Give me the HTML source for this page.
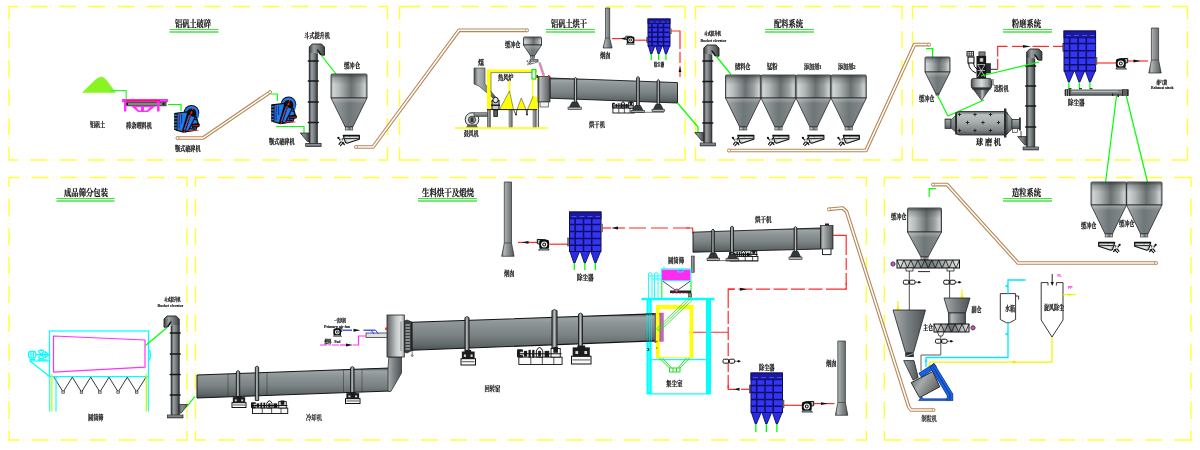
<!DOCTYPE html>
<html lang="zh-CN">
<head>
<meta charset="utf-8">
<title>铝矾土工艺流程图</title>
<style>
html,body{margin:0;padding:0;background:#fff;}
body{width:1200px;height:450px;overflow:hidden;font-family:"Liberation Serif","Noto Serif CJK SC",serif;}
svg{will-change:transform;transform:translateZ(0);}
svg text{white-space:pre;stroke:#111;stroke-width:0.22px;paint-order:stroke;}
</style>
</head>
<body>
<svg width="1200" height="450" viewBox="0 0 1200 450" style="display:block">
<defs>
<linearGradient id="gH" x1="0" x2="1" y1="0" y2="0"><stop offset="0" stop-color="#4b4f50"/><stop offset="0.18" stop-color="#b4b9b9"/><stop offset="0.5" stop-color="#8b9091"/><stop offset="0.85" stop-color="#666a6b"/><stop offset="1" stop-color="#44484a"/></linearGradient>
<linearGradient id="gC" x1="0" x2="1" y1="0" y2="0"><stop offset="0" stop-color="#5a5e5f"/><stop offset="0.3" stop-color="#8a8f90"/><stop offset="0.6" stop-color="#75797a"/><stop offset="1" stop-color="#3f4344"/></linearGradient>
<linearGradient id="gV" x1="0" x2="0" y1="0" y2="1"><stop offset="0" stop-color="#404647"/><stop offset="0.1" stop-color="#9ca4a5"/><stop offset="0.28" stop-color="#8c9496"/><stop offset="0.58" stop-color="#7b8385"/><stop offset="0.86" stop-color="#5f6769"/><stop offset="1" stop-color="#484e50"/></linearGradient>
<linearGradient id="gT" x1="0" x2="1" y1="0" y2="0"><stop offset="0" stop-color="#3a3c3d"/><stop offset="0.45" stop-color="#c4c8c8"/><stop offset="1" stop-color="#3a3c3d"/></linearGradient>
<linearGradient id="gHood" x1="0" x2="1" y1="0" y2="0"><stop offset="0" stop-color="#5e6263"/><stop offset="0.25" stop-color="#8e9293"/><stop offset="0.55" stop-color="#c6caca"/><stop offset="0.8" stop-color="#e0e3e3"/><stop offset="1" stop-color="#a2a6a7"/></linearGradient>
<linearGradient id="gE" x1="0" x2="1" y1="0" y2="0"><stop offset="0" stop-color="#3c4243"/><stop offset="0.3" stop-color="#9aa0a1"/><stop offset="0.65" stop-color="#717778"/><stop offset="1" stop-color="#3a3f40"/></linearGradient>
<linearGradient id="gHop" x1="0" x2="1" y1="0" y2="0"><stop offset="0" stop-color="#9aa0a0"/><stop offset="0.06" stop-color="#d0d4d4"/><stop offset="0.24" stop-color="#b2b7b7"/><stop offset="0.56" stop-color="#6b7172"/><stop offset="0.8" stop-color="#9ca2a2"/><stop offset="0.94" stop-color="#ccd0d0"/><stop offset="1" stop-color="#8a9091"/></linearGradient>
<linearGradient id="gCone" x1="0" x2="1" y1="0" y2="0"><stop offset="0" stop-color="#a4aaab"/><stop offset="0.5" stop-color="#6f7677"/><stop offset="1" stop-color="#8a9091"/></linearGradient>
<linearGradient id="gTopShade" x1="0" x2="0" y1="0" y2="1"><stop offset="0" stop-color="#2e3334" stop-opacity="0.75"/><stop offset="0.35" stop-color="#3a4041" stop-opacity="0.3"/><stop offset="1" stop-color="#3a4041" stop-opacity="0"/></linearGradient>
<linearGradient id="gConeTop" x1="0" x2="0" y1="0" y2="1"><stop offset="0" stop-color="#ffffff" stop-opacity="0.28"/><stop offset="1" stop-color="#ffffff" stop-opacity="0"/></linearGradient>
<linearGradient id="gM" x1="0" x2="0" y1="0" y2="1"><stop offset="0" stop-color="#5a6061"/><stop offset="0.14" stop-color="#bcc1c1"/><stop offset="0.45" stop-color="#a9aeae"/><stop offset="0.8" stop-color="#7f8586"/><stop offset="1" stop-color="#4c5253"/></linearGradient>
<linearGradient id="gC2" x1="0" x2="1" y1="0" y2="0"><stop offset="0" stop-color="#a9afaf"/><stop offset="0.45" stop-color="#7b8182"/><stop offset="1" stop-color="#4e5455"/></linearGradient>
<linearGradient id="gScrew" x1="0" x2="1" y1="0" y2="0"><stop offset="0" stop-color="#e6e9e9"/><stop offset="0.5" stop-color="#6c7273"/><stop offset="1" stop-color="#e6e9e9"/></linearGradient>
<linearGradient id="gDrum" x1="0" x2="1" y1="0" y2="0"><stop offset="0" stop-color="#4a4e4f"/><stop offset="0.22" stop-color="#9ea2a3"/><stop offset="0.5" stop-color="#d8dcdc"/><stop offset="0.8" stop-color="#9a9e9f"/><stop offset="1" stop-color="#4a4e4f"/></linearGradient>
<linearGradient id="gDrum2" x1="0" x2="1" y1="0" y2="0"><stop offset="0" stop-color="#3c4041"/><stop offset="0.45" stop-color="#6c7071"/><stop offset="0.55" stop-color="#c4c8c8"/><stop offset="0.7" stop-color="#6c7071"/><stop offset="1" stop-color="#3c4041"/></linearGradient>
<filter id="soft" filterUnits="userSpaceOnUse" x="0" y="0" width="1200" height="450" color-interpolation-filters="sRGB"><feGaussianBlur stdDeviation="0.4"/></filter>
<linearGradient id="gDrumV" x1="0" x2="1" y1="0" y2="0.6"><stop offset="0" stop-color="#565a5b"/><stop offset="0.45" stop-color="#a6aaab"/><stop offset="1" stop-color="#5a5e5f"/></linearGradient>
</defs>
<rect width="1200" height="450" fill="#fff"/>
<g filter="url(#soft)">
<path d="M8.35 6.5H18.25M30.25 6.5H47.25M59.25 6.5H76.25M88.25 6.5H105.25M117.25 6.5H134.25M146.25 6.5H163.25M175.25 6.5H192.25M204.25 6.5H221.25M233.25 6.5H250.25M262.25 6.5H279.25M291.25 6.5H308.25M320.25 6.5H337.25M349.25 6.5H366.25M378.25 6.5H388.15M8.35 160H18.25M30.25 160H47.25M59.25 160H76.25M88.25 160H105.25M117.25 160H134.25M146.25 160H163.25M175.25 160H192.25M204.25 160H221.25M233.25 160H250.25M262.25 160H279.25M291.25 160H308.25M320.25 160H337.25M349.25 160H366.25M378.25 160H388.15M9 5.85V19.25M9 31.25V48.25M9 60.25V77.25M9 89.25V106.25M9 118.25V135.25M9 147.25V160.65M387.5 5.85V19.25M387.5 31.25V48.25M387.5 60.25V77.25M387.5 89.25V106.25M387.5 118.25V135.25M387.5 147.25V160.65" fill="none" stroke="#ffff3a" stroke-width="1.45"/>
<path d="M21.65 6.5h1M25.65 6.5h1M50.65 6.5h1M54.65 6.5h1M79.65 6.5h1M83.65 6.5h1M108.65 6.5h1M112.65 6.5h1M137.65 6.5h1M141.65 6.5h1M166.65 6.5h1M170.65 6.5h1M195.65 6.5h1M199.65 6.5h1M224.65 6.5h1M228.65 6.5h1M253.65 6.5h1M257.65 6.5h1M282.65 6.5h1M286.65 6.5h1M311.65 6.5h1M315.65 6.5h1M340.65 6.5h1M344.65 6.5h1M369.65 6.5h1M373.65 6.5h1M21.65 160h1M25.65 160h1M50.65 160h1M54.65 160h1M79.65 160h1M83.65 160h1M108.65 160h1M112.65 160h1M137.65 160h1M141.65 160h1M166.65 160h1M170.65 160h1M195.65 160h1M199.65 160h1M224.65 160h1M228.65 160h1M253.65 160h1M257.65 160h1M282.65 160h1M286.65 160h1M311.65 160h1M315.65 160h1M340.65 160h1M344.65 160h1M369.65 160h1M373.65 160h1M9 22.65v1M9 26.65v1M9 51.65v1M9 55.65v1M9 80.65v1M9 84.65v1M9 109.65v1M9 113.65v1M9 138.65v1M9 142.65v1M387.5 22.65v1M387.5 26.65v1M387.5 51.65v1M387.5 55.65v1M387.5 80.65v1M387.5 84.65v1M387.5 109.65v1M387.5 113.65v1M387.5 138.65v1M387.5 142.65v1" fill="none" stroke="#ffff3a" stroke-width="1.4" opacity="0.6"/>
<path d="M398.85 6.5H420.25M432.25 6.5H449.25M461.25 6.5H478.25M490.25 6.5H507.25M519.25 6.5H536.25M548.25 6.5H565.25M577.25 6.5H594.25M606.25 6.5H623.25M635.25 6.5H652.25M664.25 6.5H685.65M398.85 160H420.25M432.25 160H449.25M461.25 160H478.25M490.25 160H507.25M519.25 160H536.25M548.25 160H565.25M577.25 160H594.25M606.25 160H623.25M635.25 160H652.25M664.25 160H685.65M399.5 5.85V19.25M399.5 31.25V48.25M399.5 60.25V77.25M399.5 89.25V106.25M399.5 118.25V135.25M399.5 147.25V160.65M685 5.85V19.25M685 31.25V48.25M685 60.25V77.25M685 89.25V106.25M685 118.25V135.25M685 147.25V160.65" fill="none" stroke="#ffff3a" stroke-width="1.45"/>
<path d="M423.65 6.5h1M427.65 6.5h1M452.65 6.5h1M456.65 6.5h1M481.65 6.5h1M485.65 6.5h1M510.65 6.5h1M514.65 6.5h1M539.65 6.5h1M543.65 6.5h1M568.65 6.5h1M572.65 6.5h1M597.65 6.5h1M601.65 6.5h1M626.65 6.5h1M630.65 6.5h1M655.65 6.5h1M659.65 6.5h1M423.65 160h1M427.65 160h1M452.65 160h1M456.65 160h1M481.65 160h1M485.65 160h1M510.65 160h1M514.65 160h1M539.65 160h1M543.65 160h1M568.65 160h1M572.65 160h1M597.65 160h1M601.65 160h1M626.65 160h1M630.65 160h1M655.65 160h1M659.65 160h1M399.5 22.65v1M399.5 26.65v1M399.5 51.65v1M399.5 55.65v1M399.5 80.65v1M399.5 84.65v1M399.5 109.65v1M399.5 113.65v1M399.5 138.65v1M399.5 142.65v1M685 22.65v1M685 26.65v1M685 51.65v1M685 55.65v1M685 80.65v1M685 84.65v1M685 109.65v1M685 113.65v1M685 138.65v1M685 142.65v1" fill="none" stroke="#ffff3a" stroke-width="1.4" opacity="0.6"/>
<path d="M694.85 6.5H705.75M717.75 6.5H734.75M746.75 6.5H763.75M775.75 6.5H792.75M804.75 6.5H821.75M833.75 6.5H850.75M862.75 6.5H879.75M891.75 6.5H902.65M694.85 160H705.75M717.75 160H734.75M746.75 160H763.75M775.75 160H792.75M804.75 160H821.75M833.75 160H850.75M862.75 160H879.75M891.75 160H902.65M695.5 5.85V19.25M695.5 31.25V48.25M695.5 60.25V77.25M695.5 89.25V106.25M695.5 118.25V135.25M695.5 147.25V160.65M902 5.85V19.25M902 31.25V48.25M902 60.25V77.25M902 89.25V106.25M902 118.25V135.25M902 147.25V160.65" fill="none" stroke="#ffff3a" stroke-width="1.45"/>
<path d="M709.15 6.5h1M713.15 6.5h1M738.15 6.5h1M742.15 6.5h1M767.15 6.5h1M771.15 6.5h1M796.15 6.5h1M800.15 6.5h1M825.15 6.5h1M829.15 6.5h1M854.15 6.5h1M858.15 6.5h1M883.15 6.5h1M887.15 6.5h1M709.15 160h1M713.15 160h1M738.15 160h1M742.15 160h1M767.15 160h1M771.15 160h1M796.15 160h1M800.15 160h1M825.15 160h1M829.15 160h1M854.15 160h1M858.15 160h1M883.15 160h1M887.15 160h1M695.5 22.65v1M695.5 26.65v1M695.5 51.65v1M695.5 55.65v1M695.5 80.65v1M695.5 84.65v1M695.5 109.65v1M695.5 113.65v1M695.5 138.65v1M695.5 142.65v1M902 22.65v1M902 26.65v1M902 51.65v1M902 55.65v1M902 80.65v1M902 84.65v1M902 109.65v1M902 113.65v1M902 138.65v1M902 142.65v1" fill="none" stroke="#ffff3a" stroke-width="1.4" opacity="0.6"/>
<path d="M911.85 6.5H928M940 6.5H957M969 6.5H986M998 6.5H1015M1027 6.5H1044M1056 6.5H1073M1085 6.5H1102M1114 6.5H1131M1143 6.5H1160M1172 6.5H1188.15M911.85 160H928M940 160H957M969 160H986M998 160H1015M1027 160H1044M1056 160H1073M1085 160H1102M1114 160H1131M1143 160H1160M1172 160H1188.15M912.5 5.85V19.25M912.5 31.25V48.25M912.5 60.25V77.25M912.5 89.25V106.25M912.5 118.25V135.25M912.5 147.25V160.65M1187.5 5.85V19.25M1187.5 31.25V48.25M1187.5 60.25V77.25M1187.5 89.25V106.25M1187.5 118.25V135.25M1187.5 147.25V160.65" fill="none" stroke="#ffff3a" stroke-width="1.45"/>
<path d="M931.4 6.5h1M935.4 6.5h1M960.4 6.5h1M964.4 6.5h1M989.4 6.5h1M993.4 6.5h1M1018.4 6.5h1M1022.4 6.5h1M1047.4 6.5h1M1051.4 6.5h1M1076.4 6.5h1M1080.4 6.5h1M1105.4 6.5h1M1109.4 6.5h1M1134.4 6.5h1M1138.4 6.5h1M1163.4 6.5h1M1167.4 6.5h1M931.4 160h1M935.4 160h1M960.4 160h1M964.4 160h1M989.4 160h1M993.4 160h1M1018.4 160h1M1022.4 160h1M1047.4 160h1M1051.4 160h1M1076.4 160h1M1080.4 160h1M1105.4 160h1M1109.4 160h1M1134.4 160h1M1138.4 160h1M1163.4 160h1M1167.4 160h1M912.5 22.65v1M912.5 26.65v1M912.5 51.65v1M912.5 55.65v1M912.5 80.65v1M912.5 84.65v1M912.5 109.65v1M912.5 113.65v1M912.5 138.65v1M912.5 142.65v1M1187.5 22.65v1M1187.5 26.65v1M1187.5 51.65v1M1187.5 55.65v1M1187.5 80.65v1M1187.5 84.65v1M1187.5 109.65v1M1187.5 113.65v1M1187.5 138.65v1M1187.5 142.65v1" fill="none" stroke="#ffff3a" stroke-width="1.4" opacity="0.6"/>
<path d="M8.35 177.5H19.5M31.5 177.5H48.5M60.5 177.5H77.5M89.5 177.5H106.5M118.5 177.5H135.5M147.5 177.5H164.5M176.5 177.5H187.65M8.35 440H19.5M31.5 440H48.5M60.5 440H77.5M89.5 440H106.5M118.5 440H135.5M147.5 440H164.5M176.5 440H187.65M9 176.85V186.75M9 198.75V215.75M9 227.75V244.75M9 256.75V273.75M9 285.75V302.75M9 314.75V331.75M9 343.75V360.75M9 372.75V389.75M9 401.75V418.75M9 430.75V440.65M187 176.85V186.75M187 198.75V215.75M187 227.75V244.75M187 256.75V273.75M187 285.75V302.75M187 314.75V331.75M187 343.75V360.75M187 372.75V389.75M187 401.75V418.75M187 430.75V440.65" fill="none" stroke="#ffff3a" stroke-width="1.45"/>
<path d="M22.9 177.5h1M26.9 177.5h1M51.9 177.5h1M55.9 177.5h1M80.9 177.5h1M84.9 177.5h1M109.9 177.5h1M113.9 177.5h1M138.9 177.5h1M142.9 177.5h1M167.9 177.5h1M171.9 177.5h1M22.9 440h1M26.9 440h1M51.9 440h1M55.9 440h1M80.9 440h1M84.9 440h1M109.9 440h1M113.9 440h1M138.9 440h1M142.9 440h1M167.9 440h1M171.9 440h1M9 190.15v1M9 194.15v1M9 219.15v1M9 223.15v1M9 248.15v1M9 252.15v1M9 277.15v1M9 281.15v1M9 306.15v1M9 310.15v1M9 335.15v1M9 339.15v1M9 364.15v1M9 368.15v1M9 393.15v1M9 397.15v1M9 422.15v1M9 426.15v1M187 190.15v1M187 194.15v1M187 219.15v1M187 223.15v1M187 248.15v1M187 252.15v1M187 277.15v1M187 281.15v1M187 306.15v1M187 310.15v1M187 335.15v1M187 339.15v1M187 364.15v1M187 368.15v1M187 393.15v1M187 397.15v1M187 422.15v1M187 426.15v1" fill="none" stroke="#ffff3a" stroke-width="1.4" opacity="0.6"/>
<path d="M194.85 177.5H205.9M217.9 177.5H234.9M246.9 177.5H263.9M275.9 177.5H292.9M304.9 177.5H321.9M333.9 177.5H350.9M362.9 177.5H379.9M391.9 177.5H408.9M420.9 177.5H437.9M449.9 177.5H466.9M478.9 177.5H495.9M507.9 177.5H524.9M536.9 177.5H553.9M565.9 177.5H582.9M594.9 177.5H611.9M623.9 177.5H640.9M652.9 177.5H669.9M681.9 177.5H698.9M710.9 177.5H727.9M739.9 177.5H756.9M768.9 177.5H785.9M797.9 177.5H814.9M826.9 177.5H843.9M855.9 177.5H866.95M194.85 440H205.9M217.9 440H234.9M246.9 440H263.9M275.9 440H292.9M304.9 440H321.9M333.9 440H350.9M362.9 440H379.9M391.9 440H408.9M420.9 440H437.9M449.9 440H466.9M478.9 440H495.9M507.9 440H524.9M536.9 440H553.9M565.9 440H582.9M594.9 440H611.9M623.9 440H640.9M652.9 440H669.9M681.9 440H698.9M710.9 440H727.9M739.9 440H756.9M768.9 440H785.9M797.9 440H814.9M826.9 440H843.9M855.9 440H866.95M195.5 176.85V186.75M195.5 198.75V215.75M195.5 227.75V244.75M195.5 256.75V273.75M195.5 285.75V302.75M195.5 314.75V331.75M195.5 343.75V360.75M195.5 372.75V389.75M195.5 401.75V418.75M195.5 430.75V440.65M866.3 176.85V186.75M866.3 198.75V215.75M866.3 227.75V244.75M866.3 256.75V273.75M866.3 285.75V302.75M866.3 314.75V331.75M866.3 343.75V360.75M866.3 372.75V389.75M866.3 401.75V418.75M866.3 430.75V440.65" fill="none" stroke="#ffff3a" stroke-width="1.45"/>
<path d="M209.3 177.5h1M213.3 177.5h1M238.3 177.5h1M242.3 177.5h1M267.3 177.5h1M271.3 177.5h1M296.3 177.5h1M300.3 177.5h1M325.3 177.5h1M329.3 177.5h1M354.3 177.5h1M358.3 177.5h1M383.3 177.5h1M387.3 177.5h1M412.3 177.5h1M416.3 177.5h1M441.3 177.5h1M445.3 177.5h1M470.3 177.5h1M474.3 177.5h1M499.3 177.5h1M503.3 177.5h1M528.3 177.5h1M532.3 177.5h1M557.3 177.5h1M561.3 177.5h1M586.3 177.5h1M590.3 177.5h1M615.3 177.5h1M619.3 177.5h1M644.3 177.5h1M648.3 177.5h1M673.3 177.5h1M677.3 177.5h1M702.3 177.5h1M706.3 177.5h1M731.3 177.5h1M735.3 177.5h1M760.3 177.5h1M764.3 177.5h1M789.3 177.5h1M793.3 177.5h1M818.3 177.5h1M822.3 177.5h1M847.3 177.5h1M851.3 177.5h1M209.3 440h1M213.3 440h1M238.3 440h1M242.3 440h1M267.3 440h1M271.3 440h1M296.3 440h1M300.3 440h1M325.3 440h1M329.3 440h1M354.3 440h1M358.3 440h1M383.3 440h1M387.3 440h1M412.3 440h1M416.3 440h1M441.3 440h1M445.3 440h1M470.3 440h1M474.3 440h1M499.3 440h1M503.3 440h1M528.3 440h1M532.3 440h1M557.3 440h1M561.3 440h1M586.3 440h1M590.3 440h1M615.3 440h1M619.3 440h1M644.3 440h1M648.3 440h1M673.3 440h1M677.3 440h1M702.3 440h1M706.3 440h1M731.3 440h1M735.3 440h1M760.3 440h1M764.3 440h1M789.3 440h1M793.3 440h1M818.3 440h1M822.3 440h1M847.3 440h1M851.3 440h1M195.5 190.15v1M195.5 194.15v1M195.5 219.15v1M195.5 223.15v1M195.5 248.15v1M195.5 252.15v1M195.5 277.15v1M195.5 281.15v1M195.5 306.15v1M195.5 310.15v1M195.5 335.15v1M195.5 339.15v1M195.5 364.15v1M195.5 368.15v1M195.5 393.15v1M195.5 397.15v1M195.5 422.15v1M195.5 426.15v1M866.3 190.15v1M866.3 194.15v1M866.3 219.15v1M866.3 223.15v1M866.3 248.15v1M866.3 252.15v1M866.3 277.15v1M866.3 281.15v1M866.3 306.15v1M866.3 310.15v1M866.3 335.15v1M866.3 339.15v1M866.3 364.15v1M866.3 368.15v1M866.3 393.15v1M866.3 397.15v1M866.3 422.15v1M866.3 426.15v1" fill="none" stroke="#ffff3a" stroke-width="1.4" opacity="0.6"/>
<path d="M883.65 177.5H901.15M913.15 177.5H930.15M942.15 177.5H959.15M971.15 177.5H988.15M1000.15 177.5H1017.15M1029.15 177.5H1046.15M1058.15 177.5H1075.15M1087.15 177.5H1104.15M1116.15 177.5H1133.15M1145.15 177.5H1162.15M1174.15 177.5H1191.65M883.65 440H901.15M913.15 440H930.15M942.15 440H959.15M971.15 440H988.15M1000.15 440H1017.15M1029.15 440H1046.15M1058.15 440H1075.15M1087.15 440H1104.15M1116.15 440H1133.15M1145.15 440H1162.15M1174.15 440H1191.65M884.3 176.85V186.75M884.3 198.75V215.75M884.3 227.75V244.75M884.3 256.75V273.75M884.3 285.75V302.75M884.3 314.75V331.75M884.3 343.75V360.75M884.3 372.75V389.75M884.3 401.75V418.75M884.3 430.75V440.65M1191 176.85V186.75M1191 198.75V215.75M1191 227.75V244.75M1191 256.75V273.75M1191 285.75V302.75M1191 314.75V331.75M1191 343.75V360.75M1191 372.75V389.75M1191 401.75V418.75M1191 430.75V440.65" fill="none" stroke="#ffff3a" stroke-width="1.45"/>
<path d="M904.55 177.5h1M908.55 177.5h1M933.55 177.5h1M937.55 177.5h1M962.55 177.5h1M966.55 177.5h1M991.55 177.5h1M995.55 177.5h1M1020.55 177.5h1M1024.55 177.5h1M1049.55 177.5h1M1053.55 177.5h1M1078.55 177.5h1M1082.55 177.5h1M1107.55 177.5h1M1111.55 177.5h1M1136.55 177.5h1M1140.55 177.5h1M1165.55 177.5h1M1169.55 177.5h1M904.55 440h1M908.55 440h1M933.55 440h1M937.55 440h1M962.55 440h1M966.55 440h1M991.55 440h1M995.55 440h1M1020.55 440h1M1024.55 440h1M1049.55 440h1M1053.55 440h1M1078.55 440h1M1082.55 440h1M1107.55 440h1M1111.55 440h1M1136.55 440h1M1140.55 440h1M1165.55 440h1M1169.55 440h1M884.3 190.15v1M884.3 194.15v1M884.3 219.15v1M884.3 223.15v1M884.3 248.15v1M884.3 252.15v1M884.3 277.15v1M884.3 281.15v1M884.3 306.15v1M884.3 310.15v1M884.3 335.15v1M884.3 339.15v1M884.3 364.15v1M884.3 368.15v1M884.3 393.15v1M884.3 397.15v1M884.3 422.15v1M884.3 426.15v1M1191 190.15v1M1191 194.15v1M1191 219.15v1M1191 223.15v1M1191 248.15v1M1191 252.15v1M1191 277.15v1M1191 281.15v1M1191 306.15v1M1191 310.15v1M1191 335.15v1M1191 339.15v1M1191 364.15v1M1191 368.15v1M1191 393.15v1M1191 397.15v1M1191 422.15v1M1191 426.15v1" fill="none" stroke="#ffff3a" stroke-width="1.4" opacity="0.6"/>
<text x="175" y="26.8" font-size="9.6" font-weight="700" fill="#111" textLength="36" lengthAdjust="spacingAndGlyphs" font-family='"Liberation Serif","Noto Serif CJK SC",serif'>铝矾土破碎</text>
<path d="M169.5 29.5 H218.5" stroke="#3ce63c" stroke-width="1.05" fill="none"/>
<path d="M169.5 31.95 H218.5" stroke="#74ec74" stroke-width="1.9" fill="none"/>
<text x="551" y="26.8" font-size="9.6" font-weight="700" fill="#111" textLength="36" lengthAdjust="spacingAndGlyphs" font-family='"Liberation Serif","Noto Serif CJK SC",serif'>铝矾土烘干</text>
<path d="M546 29.5 H595" stroke="#3ce63c" stroke-width="1.05" fill="none"/>
<path d="M546 31.95 H595" stroke="#74ec74" stroke-width="1.9" fill="none"/>
<text x="774" y="26.8" font-size="9.6" font-weight="700" fill="#111" textLength="29" lengthAdjust="spacingAndGlyphs" font-family='"Liberation Serif","Noto Serif CJK SC",serif'>配料系统</text>
<path d="M765 29.5 H814" stroke="#3ce63c" stroke-width="1.05" fill="none"/>
<path d="M765 31.95 H814" stroke="#74ec74" stroke-width="1.9" fill="none"/>
<text x="1012" y="26.8" font-size="9.6" font-weight="700" fill="#111" textLength="29" lengthAdjust="spacingAndGlyphs" font-family='"Liberation Serif","Noto Serif CJK SC",serif'>粉磨系统</text>
<path d="M1003 29.5 H1052" stroke="#3ce63c" stroke-width="1.05" fill="none"/>
<path d="M1003 31.95 H1052" stroke="#74ec74" stroke-width="1.9" fill="none"/>
<text x="64" y="195.8" font-size="9.6" font-weight="700" fill="#111" textLength="44" lengthAdjust="spacingAndGlyphs" font-family='"Liberation Serif","Noto Serif CJK SC",serif'>成品筛分包装</text>
<path d="M56.5 198.5 H114.5" stroke="#3ce63c" stroke-width="1.05" fill="none"/>
<path d="M56.5 200.95 H114.5" stroke="#74ec74" stroke-width="1.9" fill="none"/>
<text x="422" y="195.8" font-size="9.6" font-weight="700" fill="#111" textLength="52" lengthAdjust="spacingAndGlyphs" font-family='"Liberation Serif","Noto Serif CJK SC",serif'>生料烘干及煅烧</text>
<path d="M418 198.5 H477" stroke="#3ce63c" stroke-width="1.05" fill="none"/>
<path d="M418 200.95 H477" stroke="#74ec74" stroke-width="1.9" fill="none"/>
<text x="1012" y="195.8" font-size="9.6" font-weight="700" fill="#111" textLength="29" lengthAdjust="spacingAndGlyphs" font-family='"Liberation Serif","Noto Serif CJK SC",serif'>造粒系统</text>
<path d="M1003 198.5 H1052" stroke="#3ce63c" stroke-width="1.05" fill="none"/>
<path d="M1003 200.95 H1052" stroke="#74ec74" stroke-width="1.9" fill="none"/>
<path d="M82 92.7 L95.5 79.6 Q99 76.5 101.5 76.7 Q104.2 76.9 106.5 80 Q111.5 86.8 116 92.7 Z" fill="#88f522"/>
<path d="M110.5 90.7 L126.2 90.7 L126.2 99" fill="none" stroke="#30f040" stroke-width="1.2"/>
<rect x="122" y="99" width="46" height="3.2" fill="#ff30ff" stroke="none" stroke-width="0.6"/>
<path d="M126 100.4 H160" stroke="#ff1030" stroke-width="1"/>
<rect x="124.5" y="102.2" width="41.5" height="3.6" fill="#7f8a80" stroke="#222" stroke-width="0.8"/>
<rect x="126" y="103" width="2" height="2" fill="#111" stroke="none" stroke-width="0.6"/>
<rect x="162.5" y="103" width="2" height="2" fill="#111" stroke="none" stroke-width="0.6"/>
<rect x="124" y="102" width="2.4" height="9.5" fill="#ff30ff" stroke="none" stroke-width="0.6"/>
<rect x="157" y="102" width="2.6" height="9.5" fill="#ff30ff" stroke="none" stroke-width="0.6"/>
<polygon points="131,105.8 156,105.8 148,112 138,112" fill="#ff30ff" stroke="none" stroke-width="0.6"/>
<polygon points="136,107.2 141,107.2 141,110.5 139,110.5" fill="#fff" stroke="none" stroke-width="0.6"/>
<polygon points="144,107.2 150,107.2 147,110.5 144,110.5" fill="#fff" stroke="none" stroke-width="0.6"/>
<path d="M168 104.5 L181 104.5 L181 111" fill="none" stroke="#00ff00" stroke-width="1.2"/>
<g transform="translate(174 104.5)">
<circle cx="17.5" cy="8.3" r="7.8" fill="#0d0d0d"/>
<path d="M11.6 9 A5.9 5.9 0 0 1 23.4 8.3 V13.5" fill="none" stroke="#1c7cf2" stroke-width="2.3"/>
<path d="M1.6 8.9 L13 7.4 L15 10 L22.6 13 L24.2 19 L21.8 25.6 L9.5 27.6 L2 25.6 Z" fill="#1c7cf2" stroke="#0d0d0d" stroke-width="1.3"/>
<path d="M13.2 8 L17.8 8.6 L11.4 27.2 L7.8 27.2 Z" fill="#0d0d0d"/>
<path d="M15.4 10.5 L10.2 25.5" stroke="#1c7cf2" stroke-width="1"/>
<path d="M17.8 8.6 L21.4 12.2 L14.2 26.4 L11.4 27.2 M20 14.5 L23 15.5 M15.5 24 L21 24.6" fill="none" stroke="#0d0d0d" stroke-width="1.2"/>
<path d="M19 3.5 L9.6 28.6" stroke="#ff2020" stroke-width="0.9" stroke-dasharray="2.4 1"/>
<rect x="0.3" y="8.6" width="3.2" height="16.6" fill="#0d0d0d"/>
<path d="M0.8 10.8 h2 M0.8 14 h2 M0.8 17.2 h2 M0.8 20.4 h2 M0.8 23.6 h2" stroke="#1c7cf2" stroke-width="1.5"/>
<path d="M0 9.2 h1.2 M0 12.4 h1.2 M0 15.6 h1.2 M0 18.8 h1.2 M0 22 h1.2 M0 25 h1.2" stroke="#0d0d0d" stroke-width="0.9"/>
<path d="M5.2 9.8 V24 M7.6 10 V19" stroke="#0a2a6a" stroke-width="0.9"/>
<path d="M17.2 19.6 L25 18.6 Q26.8 20.6 25.2 22.6 L18 23.6 Z" fill="#0d0d0d"/>
<path d="M14 26 H24.5 M4.4 10.2 h2 M4.4 17 h2 M3.6 13.6 h1.4 M18.5 21.2 h6.5 M3.8 24.4 h2" stroke="#ff2020" stroke-width="0.8"/>
<circle cx="17.5" cy="8.3" r="1" fill="#ff2020"/>
</g>
<path d="M177.5 138 L203 138 L270 92.2" fill="none" stroke="#b88654" stroke-width="3.7" stroke-linejoin="round" stroke-linecap="round"/>
<path d="M177.5 138 L203 138 L270 92.2" fill="none" stroke="#fff" stroke-width="1.5" stroke-linejoin="round" stroke-linecap="round"/>
<circle cx="270" cy="92.2" r="1.5" fill="#fff" stroke="#b88654" stroke-width="0.8"/>
<circle cx="177.5" cy="138" r="1.5" fill="#fff" stroke="#b88654" stroke-width="0.8"/>
<path d="M271 94 L277.3 94 L277.3 101" fill="none" stroke="#00ff00" stroke-width="1.2"/>
<g transform="translate(271 96)">
<circle cx="17.5" cy="8.3" r="7.8" fill="#0d0d0d"/>
<path d="M11.6 9 A5.9 5.9 0 0 1 23.4 8.3 V13.5" fill="none" stroke="#1c7cf2" stroke-width="2.3"/>
<path d="M1.6 8.9 L13 7.4 L15 10 L22.6 13 L24.2 19 L21.8 25.6 L9.5 27.6 L2 25.6 Z" fill="#1c7cf2" stroke="#0d0d0d" stroke-width="1.3"/>
<path d="M13.2 8 L17.8 8.6 L11.4 27.2 L7.8 27.2 Z" fill="#0d0d0d"/>
<path d="M15.4 10.5 L10.2 25.5" stroke="#1c7cf2" stroke-width="1"/>
<path d="M17.8 8.6 L21.4 12.2 L14.2 26.4 L11.4 27.2 M20 14.5 L23 15.5 M15.5 24 L21 24.6" fill="none" stroke="#0d0d0d" stroke-width="1.2"/>
<path d="M19 3.5 L9.6 28.6" stroke="#ff2020" stroke-width="0.9" stroke-dasharray="2.4 1"/>
<rect x="0.3" y="8.6" width="3.2" height="16.6" fill="#0d0d0d"/>
<path d="M0.8 10.8 h2 M0.8 14 h2 M0.8 17.2 h2 M0.8 20.4 h2 M0.8 23.6 h2" stroke="#1c7cf2" stroke-width="1.5"/>
<path d="M0 9.2 h1.2 M0 12.4 h1.2 M0 15.6 h1.2 M0 18.8 h1.2 M0 22 h1.2 M0 25 h1.2" stroke="#0d0d0d" stroke-width="0.9"/>
<path d="M5.2 9.8 V24 M7.6 10 V19" stroke="#0a2a6a" stroke-width="0.9"/>
<path d="M17.2 19.6 L25 18.6 Q26.8 20.6 25.2 22.6 L18 23.6 Z" fill="#0d0d0d"/>
<path d="M14 26 H24.5 M4.4 10.2 h2 M4.4 17 h2 M3.6 13.6 h1.4 M18.5 21.2 h6.5 M3.8 24.4 h2" stroke="#ff2020" stroke-width="0.8"/>
<circle cx="17.5" cy="8.3" r="1" fill="#ff2020"/>
</g>
<path d="M276 126.5 L304 126.5 L304 134" fill="none" stroke="#00ff00" stroke-width="1.2"/>
<rect x="309.3" y="49" width="8" height="94.5" fill="url(#gE)" stroke="none" stroke-width="0.6"/>
<path d="M309.3 53 V47 L312.3 44 H321.5 L324.5 47 V55.2 H321.1 L317.3 49.5 V53 Z" fill="url(#gE)"/>
<path d="M309.3 143.5 V47 L312.3 44 H321.5 L324.5 47 V55.2 H321.1 L317.3 49.5 V143.5" fill="none" stroke="#1e2021" stroke-width="0.9" stroke-linejoin="round"/>
<path d="M317.6 50 L320.9 54.8" stroke="#151617" stroke-width="1.5"/>
<path d="M316.9 50.5 V54" stroke="#8a9091" stroke-width="1"/>
<rect x="307.7" y="60.15" width="11.2" height="1.7" rx="0.6" fill="#161718"/>
<rect x="307.7" y="80.15" width="11.2" height="1.7" rx="0.6" fill="#161718"/>
<rect x="307.7" y="101.15" width="11.2" height="1.7" rx="0.6" fill="#161718"/>
<rect x="307.7" y="121.65" width="11.2" height="1.7" rx="0.6" fill="#161718"/>
<rect x="305.7" y="143.5" width="15.4" height="2.9" fill="url(#gV)" stroke="#1e2021" stroke-width="0.7"/>
<polygon points="300.3,133 309.3,133 309.3,141.5 307.3,141.5" fill="url(#gC)" stroke="#1e2021" stroke-width="0.7"/>
<path d="M321.5 55.5 L336 74" fill="none" stroke="#00ff00" stroke-width="1.2"/>
<path d="M331 98 V75.2 Q331 74 332.2 74 H365.8 Q367 74 367 75.2 V98 Z" fill="url(#gHop)" stroke="#232526" stroke-width="0.8"/>
<rect x="331.4" y="74.4" width="35.2" height="10.08" fill="url(#gTopShade)" stroke="none" stroke-width="0.6"/>
<polygon points="331,98 367,98 352.75,127 345.25,127" fill="url(#gCone)" stroke="#232526" stroke-width="0.8"/>
<polygon points="331.6,98.4 366.4,98.4 363.8,103.5 334.2,103.5" fill="url(#gConeTop)" stroke="none" stroke-width="0.6"/>
<rect x="345.25" y="127" width="7.5" height="3" fill="url(#gHop)" stroke="#232526" stroke-width="0.6"/>
<g transform="translate(337 135)">
<polygon points="6.2,0.4 22.4,0.4 22.4,4.3 10.2,8.2 8.4,7.4" fill="#c2c7c7" stroke="#111" stroke-width="1.1" stroke-linejoin="round"/>
<path d="M7 1 H22" stroke="#111" stroke-width="1.1"/>
<path d="M8.5 2.3 H12 M13.5 2.3 H21" stroke="#f4f6f6" stroke-width="0.8"/>
<path d="M8 3.6 L22 3.3" stroke="#2a2e2f" stroke-width="1"/>
<path d="M10 5 L18.5 4.6 L10.6 7 Z" fill="#e4e8e8"/>
<path d="M1.2 2.8 L7.4 9.6 M2 9.4 L6.2 3.4 M3.4 10.6 L6.4 7.6" stroke="#111" stroke-width="1.1" fill="none" stroke-linecap="round"/>
<circle cx="1.4" cy="2.8" r="1.1" fill="#111"/>
<circle cx="4.4" cy="5.4" r="1.4" fill="#eee" stroke="#555" stroke-width="0.5"/>
<path d="M5.5 8.8 L7 7 L7.5 9.8 Z" fill="#222"/>
</g>
<path d="M356 147 L373 147 L459 30.3 L527 30.3" fill="none" stroke="#b88654" stroke-width="3.7" stroke-linejoin="round" stroke-linecap="round"/>
<path d="M356 147 L373 147 L459 30.3 L527 30.3" fill="none" stroke="#fff" stroke-width="1.5" stroke-linejoin="round" stroke-linecap="round"/>
<circle cx="527" cy="30.3" r="1.5" fill="#fff" stroke="#b88654" stroke-width="0.8"/>
<circle cx="356" cy="147" r="1.5" fill="#fff" stroke="#b88654" stroke-width="0.8"/>
<text x="90" y="127.2" font-size="7" font-weight="700" fill="#111" textLength="15" lengthAdjust="spacingAndGlyphs" font-family='"Liberation Serif","Noto Serif CJK SC",serif'>铝矾土</text>
<text x="126" y="127.6" font-size="7" font-weight="700" fill="#111" textLength="26" lengthAdjust="spacingAndGlyphs" font-family='"Liberation Serif","Noto Serif CJK SC",serif'>棒条喂料机</text>
<text x="175" y="151" font-size="7" font-weight="700" fill="#111" textLength="25.5" lengthAdjust="spacingAndGlyphs" font-family='"Liberation Serif","Noto Serif CJK SC",serif'>颚式破碎机</text>
<text x="269" y="144.4" font-size="7" font-weight="700" fill="#111" textLength="25.5" lengthAdjust="spacingAndGlyphs" font-family='"Liberation Serif","Noto Serif CJK SC",serif'>颚式破碎机</text>
<text x="304" y="38" font-size="7" font-weight="700" fill="#111" textLength="26" lengthAdjust="spacingAndGlyphs" font-family='"Liberation Serif","Noto Serif CJK SC",serif'>斗式提升机</text>
<text x="344" y="68.4" font-size="7" font-weight="700" fill="#111" textLength="16" lengthAdjust="spacingAndGlyphs" font-family='"Liberation Serif","Noto Serif CJK SC",serif'>缓冲仓</text>
<path d="M523.5 45 V38.2 Q523.5 37 524.7 37 H540.3 Q541.5 37 541.5 38.2 V45 Z" fill="url(#gHop)" stroke="#232526" stroke-width="0.8"/>
<rect x="523.9" y="37.4" width="17.2" height="3.36" fill="url(#gTopShade)" stroke="none" stroke-width="0.6"/>
<polygon points="523.5,45 541.5,45 534.3,56 530.7,56" fill="url(#gCone)" stroke="#232526" stroke-width="0.8"/>
<polygon points="524.1,45.4 540.9,45.4 538.3,50.5 526.7,50.5" fill="url(#gConeTop)" stroke="none" stroke-width="0.6"/>
<rect x="530.7" y="56" width="3.6" height="2.2" fill="url(#gHop)" stroke="#232526" stroke-width="0.6"/>
<g transform="translate(526.5 59.5) scale(0.52)">
<polygon points="6.2,0.4 22.4,0.4 22.4,4.3 10.2,8.2 8.4,7.4" fill="#c2c7c7" stroke="#111" stroke-width="1.1" stroke-linejoin="round"/>
<path d="M7 1 H22" stroke="#111" stroke-width="1.1"/>
<path d="M8.5 2.3 H12 M13.5 2.3 H21" stroke="#f4f6f6" stroke-width="0.8"/>
<path d="M8 3.6 L22 3.3" stroke="#2a2e2f" stroke-width="1"/>
<path d="M10 5 L18.5 4.6 L10.6 7 Z" fill="#e4e8e8"/>
<path d="M1.2 2.8 L7.4 9.6 M2 9.4 L6.2 3.4 M3.4 10.6 L6.4 7.6" stroke="#111" stroke-width="1.1" fill="none" stroke-linecap="round"/>
<circle cx="1.4" cy="2.8" r="1.1" fill="#111"/>
<circle cx="4.4" cy="5.4" r="1.4" fill="#eee" stroke="#555" stroke-width="0.5"/>
<path d="M5.5 8.8 L7 7 L7.5 9.8 Z" fill="#222"/>
</g>
<path d="M539 62.5 L543.5 76" fill="none" stroke="#ff70c0" stroke-width="1.6"/>
<path d="M540.2 62.2 L544.7 75.7" fill="none" stroke="#555" stroke-width="0.5"/>
<text x="505" y="47.2" font-size="7" font-weight="700" fill="#111" textLength="15.5" lengthAdjust="spacingAndGlyphs" font-family='"Liberation Serif","Noto Serif CJK SC",serif'>缓冲仓</text>
<text x="478" y="65" font-size="7" font-weight="700" fill="#111" textLength="6" lengthAdjust="spacingAndGlyphs" font-family='"Liberation Serif","Noto Serif CJK SC",serif'>煤</text>
<polygon points="474,68 485,68 485,84 496,97.5 494,99 479,86 474,84" fill="url(#gH)" stroke="#2a2c2d" stroke-width="0.6"/>
<rect x="487" y="69.6" width="50" height="2.6" fill="#ffff00" stroke="none" stroke-width="0.6"/>
<rect x="487" y="69.6" width="3.8" height="39.5" fill="#ffff00" stroke="none" stroke-width="0.6"/>
<rect x="532" y="79" width="1.2" height="30" fill="#ffff00" stroke="none" stroke-width="0.6"/>
<path d="M491 72.6 H532" stroke="#222" stroke-width="0.5"/><path d="M491 72.6 V92" stroke="#222" stroke-width="0.5"/>
<rect x="532" y="69.5" width="3.8" height="9.5" fill="#fff" stroke="#10e010" stroke-width="1.2"/>
<rect x="536" y="76" width="1.5" height="4" fill="#ffff00" stroke="none" stroke-width="0.6"/>
<path d="M509.5 80.5 L509.5 92" fill="none" stroke="#ffff00" stroke-width="1.8"/>
<polygon points="509.5,91 513.5,109.5 499.5,109.5" fill="#ffff00" stroke="#333" stroke-width="0.5"/>
<polygon points="521.3,98 526,109.5 517,109.5" fill="#ffff00" stroke="#333" stroke-width="0.5"/>
<polygon points="533,96.5 537.2,96.5 537.2,109.5 527.5,109.5" fill="#ffff00" stroke="none" stroke-width="0.5"/>
<path d="M527.5 109.5 L533 96.5" fill="none" stroke="#333" stroke-width="0.5"/>
<path d="M513.5 109.5 L516 115 L517 109.5" fill="none" stroke="#222" stroke-width="0.8"/>
<path d="M526 109.5 L527 115 L527.5 109.5" fill="none" stroke="#222" stroke-width="0.8"/>
<circle cx="516" cy="114.6" r="0.9" fill="#222" stroke="none" stroke-width="0.6"/>
<circle cx="527" cy="114.6" r="0.9" fill="#222" stroke="none" stroke-width="0.6"/>
<path d="M487 109.6 H537" stroke="#222" stroke-width="1"/>
<rect x="487.2" y="110" width="3.2" height="17.5" fill="url(#gH)" stroke="#333" stroke-width="0.4"/>
<rect x="509" y="110" width="3.2" height="17.5" fill="url(#gH)" stroke="#333" stroke-width="0.4"/>
<rect x="533" y="110" width="3.2" height="17.5" fill="url(#gH)" stroke="#333" stroke-width="0.4"/>
<rect x="537.8" y="80" width="1.2" height="47.5" fill="#555" stroke="none" stroke-width="0.6"/>
<rect x="492" y="100.5" width="7" height="9" fill="#c8cccc" stroke="#111" stroke-width="1"/>
<circle cx="495.5" cy="100" r="2.7" fill="#e8e8e8" stroke="#111" stroke-width="1"/>
<rect x="493.8" y="110" width="3.8" height="6.5" fill="#5a5e5e" stroke="#111" stroke-width="0.8"/>
<rect x="491" y="104.5" width="9" height="1.4" fill="#111" stroke="none" stroke-width="0.6"/>
<circle cx="472" cy="119.5" r="6.8" fill="#e4e6e6" stroke="#222" stroke-width="0.9"/>
<circle cx="472" cy="119.8" r="3.6" fill="#9a9e9e" stroke="#222" stroke-width="0.8"/>
<rect x="470.5" y="117.5" width="3" height="4.5" fill="#333" stroke="none" stroke-width="0.6"/>
<rect x="474" y="112.8" width="13.5" height="3.6" fill="url(#gV)" stroke="#222" stroke-width="0.5"/>
<polygon points="466.5,127.5 477.5,127.5 476,124.8 468,124.8" fill="#666" stroke="#222" stroke-width="0.5"/>
<path d="M455 128 H547.5" stroke="#ffff00" stroke-width="1.3"/>
<text x="498" y="80.4" font-size="7" font-weight="700" fill="#111" textLength="15.5" lengthAdjust="spacingAndGlyphs" font-family='"Liberation Serif","Noto Serif CJK SC",serif'>热风炉</text>
<text x="464" y="135.6" font-size="7" font-weight="700" fill="#111" textLength="14.5" lengthAdjust="spacingAndGlyphs" font-family='"Liberation Serif","Noto Serif CJK SC",serif'>鼓风机</text>
<polygon points="550,78 677.5,82.6 677.5,103 550,98.2" fill="url(#gV)" stroke="#141516" stroke-width="0.9"/>
<rect x="538" y="76.5" width="12" height="25.5" fill="url(#gH)" stroke="#222" stroke-width="0.7"/>
<rect x="540" y="102" width="8.5" height="5" fill="#f0f0f0" stroke="#222" stroke-width="0.6"/>
<rect x="536.5" y="75" width="1.4" height="3" fill="#222" stroke="none" stroke-width="0.6"/>
<rect x="548" y="75" width="1.4" height="3" fill="#ff2020" stroke="none" stroke-width="0.6"/>
<path d="M574.3 102.5 V78.5 L575.5 77.3 L576.7 78.5 V102.5 Z" fill="url(#gT)" stroke="#161718" stroke-width="0.8" stroke-linejoin="round"/>
<path d="M636.6 107.5 V77.7 L638 76.5 L639.4 77.7 V107.5 Z" fill="url(#gT)" stroke="#161718" stroke-width="0.8" stroke-linejoin="round"/>
<path d="M657 106 V80.7 L658.3 79.5 L659.6 80.7 V106 Z" fill="url(#gT)" stroke="#161718" stroke-width="0.8" stroke-linejoin="round"/>
<polygon points="572.05,102 577.45,102 580.15,107.32 569.35,107.32" fill="#33393a" stroke="#151617" stroke-width="0.6"/>
<rect x="568" y="107.17" width="13.5" height="2.43" fill="#b4b9b9" stroke="#222" stroke-width="0.6"/>
<rect x="612.9" y="108.06" width="21.15" height="4.94" fill="#fafafa" stroke="#111" stroke-width="0.9"/>
<path d="M618.75 108.06 V113 M624.38 108.06 V113 M630 108.06 V113" stroke="#111" stroke-width="0.7"/>
<rect x="612" y="102.86" width="2.93" height="5.46" rx="1" fill="#1b1c1d"/>
<rect x="615.38" y="103.9" width="1.58" height="3.9" fill="#1b1c1d" stroke="none" stroke-width="0.6"/>
<circle cx="614.25" cy="105.59" r="1.3" fill="#d8d8d8" stroke="none" stroke-width="0.6"/>
<rect x="617.62" y="103.25" width="1.12" height="5.2" fill="#1b1c1d" stroke="none" stroke-width="0.6"/>
<rect x="619.42" y="103.25" width="1.12" height="5.2" fill="#1b1c1d" stroke="none" stroke-width="0.6"/>
<path d="M621.45 103.9 Q623.02 99.35 624.6 103.9 V108.06 H621.45 Z" fill="#fafafa" stroke="#111" stroke-width="1"/>
<rect x="622.35" y="103.9" width="1.35" height="3.9" fill="#1b1c1d" stroke="none" stroke-width="0.6"/>
<rect x="625.5" y="103.9" width="2.25" height="4.16" fill="#1b1c1d" stroke="none" stroke-width="0.6"/>
<rect x="628.65" y="102.34" width="4.5" height="5.72" fill="#fafafa" stroke="#111" stroke-width="0.9"/>
<rect x="629.77" y="101.3" width="2.25" height="3.9" fill="#1b1c1d" stroke="none" stroke-width="0.6"/>
<path d="M612 105.85 H633.83" stroke="#111" stroke-width="1"/>
<polygon points="635.05,105.5 640.45,105.5 643.15,110.47 632.35,110.47" fill="#33393a" stroke="#151617" stroke-width="0.6"/>
<rect x="631" y="110.33" width="13.5" height="2.27" fill="#b4b9b9" stroke="#222" stroke-width="0.6"/>
<polygon points="655.75,104.5 660.75,104.5 663.25,109.47 653.25,109.47" fill="#33393a" stroke="#151617" stroke-width="0.6"/>
<rect x="652" y="109.33" width="12.5" height="2.27" fill="#b4b9b9" stroke="#222" stroke-width="0.6"/>
<path d="M631 112.3 H664" stroke="#222" stroke-width="0.6"/>
<text x="589" y="127.4" font-size="7" font-weight="700" fill="#111" textLength="16" lengthAdjust="spacingAndGlyphs" font-family='"Liberation Serif","Noto Serif CJK SC",serif'>烘干机</text>
<path d="M677.5 103 L698 127 L698 134.5" fill="none" stroke="#00ff00" stroke-width="1.2"/>
<polygon points="605.5,8 609.7,8 609.7,38 612.1,48 603.1,48 605.5,38" fill="url(#gH)" stroke="#2a2c2d" stroke-width="0.7"/>
<path d="M605.5 38 H609.7" stroke="#2a2c2d" stroke-width="0.6"/>
<text x="600" y="58.2" font-size="7" font-weight="700" fill="#111" textLength="10.5" lengthAdjust="spacingAndGlyphs" font-family='"Liberation Serif","Noto Serif CJK SC",serif'>烟囱</text>
<path d="M612 38.6 L626 38.6" fill="none" stroke="#ff2a2a" stroke-width="1.2"/>
<polygon points="620.5,38.6 625.5,37.25 625.5,39.95" fill="#111" stroke="none" stroke-width="0.6"/>
<g transform="translate(625.5 35.8) translate(8.5 0) scale(-1 1)">
<path d="M2.3 0.6 L8.2 0.4 L8.2 3.57 L5.59 4.25 Z" fill="#9ccccc" stroke="#0e0e0e" stroke-width="0.77" stroke-linejoin="round"/>
<rect x="-0.45" y="0.6" width="7.71" height="7.31" rx="1.64" fill="#0e0e0e"/>
<circle cx="3.4" cy="4.25" r="2.41" fill="#fff" stroke="none" stroke-width="0.6"/>
<circle cx="3.4" cy="4.25" r="1.46" fill="#0e0e0e" stroke="none" stroke-width="0.6"/>
<circle cx="3.4" cy="4.25" r="0.73" fill="#fff" stroke="none" stroke-width="0.6"/>
<polygon points="-0.44,8.5 7.79,8.5 5.96,7.14 0.84,7.14" fill="#9ccccc" stroke="#0e0e0e" stroke-width="0.6"/>
</g>
<path d="M634 40.2 L648 40.2" fill="none" stroke="#ff2a2a" stroke-width="1.2"/>
<rect x="646.8" y="37.5" width="1.6" height="5" fill="#777" stroke="#222" stroke-width="0.4"/>
<rect x="648" y="19" width="22" height="27" fill="#3434f4" stroke="#0c0c5c" stroke-width="1"/>
<rect x="648" y="19" width="22" height="4.64" fill="#1a1a9c" stroke="#0c0c5c" stroke-width="0.8"/>
<path d="M650 22.07 H669" stroke="#4a4aff" stroke-width="1.1" stroke-dasharray="3.41 2.2"/>
<path d="M651.96 23.64 V46M657.79 23.64 V46M663.51 23.64 V46M648 27.51 H670M648 32.28 H670M648 37.06 H670M648 41.71 H670" stroke="#0e0e62" stroke-width="1.5" fill="none"/>
<polygon points="648.4,46 654.93,46 651.77,54 650.77,54" fill="#2c2ce6" stroke="#0c0c5c" stroke-width="0.9"/>
<path d="M651.27 54 V60" stroke="#00ff00" stroke-width="1.3"/>
<polygon points="655.73,46 662.27,46 659.1,54 658.1,54" fill="#2c2ce6" stroke="#0c0c5c" stroke-width="0.9"/>
<path d="M658.6 54 V60" stroke="#00ff00" stroke-width="1.3"/>
<polygon points="663.07,46 669.6,46 666.43,54 665.43,54" fill="#2c2ce6" stroke="#0c0c5c" stroke-width="0.9"/>
<path d="M665.93 54 V60" stroke="#00ff00" stroke-width="1.3"/>
<rect x="669.6" y="28.8" width="1.6" height="5" fill="#777" stroke="#222" stroke-width="0.4"/>
<text x="654" y="66" font-size="4.6" font-weight="700" fill="#111" textLength="10" lengthAdjust="spacingAndGlyphs" font-family='"Liberation Serif","Noto Serif CJK SC",serif'>除尘器</text>
<path d="M671 31 L680 31 L680 38" fill="none" stroke="#ff2a2a" stroke-width="1.2"/>
<path d="M680 38 L680 78" fill="none" stroke="#ff2a2a" stroke-width="1.2" stroke-dasharray="11 3"/>
<polygon points="680,67 678.55,72 681.45,72" fill="#111" stroke="none" stroke-width="0.6"/>
<rect x="703.8" y="50" width="8" height="93" fill="url(#gE)" stroke="none" stroke-width="0.6"/>
<path d="M703.8 54 V48 L706.8 45 H716 L719 48 V56.2 H715.6 L711.8 50.5 V54 Z" fill="url(#gE)"/>
<path d="M703.8 143 V48 L706.8 45 H716 L719 48 V56.2 H715.6 L711.8 50.5 V143" fill="none" stroke="#1e2021" stroke-width="0.9" stroke-linejoin="round"/>
<path d="M712.1 51 L715.4 55.8" stroke="#151617" stroke-width="1.5"/>
<path d="M711.4 51.5 V55" stroke="#8a9091" stroke-width="1"/>
<rect x="702.2" y="60.15" width="11.2" height="1.7" rx="0.6" fill="#161718"/>
<rect x="702.2" y="80.65" width="11.2" height="1.7" rx="0.6" fill="#161718"/>
<rect x="702.2" y="101.15" width="11.2" height="1.7" rx="0.6" fill="#161718"/>
<rect x="702.2" y="122.15" width="11.2" height="1.7" rx="0.6" fill="#161718"/>
<rect x="700.2" y="143" width="15.4" height="2.9" fill="url(#gV)" stroke="#1e2021" stroke-width="0.7"/>
<polygon points="694.8,132.5 703.8,132.5 703.8,141 701.8,141" fill="url(#gC)" stroke="#1e2021" stroke-width="0.7"/>
<path d="M716 56 L731 74.5" fill="none" stroke="#00ff00" stroke-width="1.2"/>
<text x="704" y="35.4" font-size="4.3" font-weight="700" fill="#111" textLength="17" lengthAdjust="spacingAndGlyphs" font-family='"Liberation Serif","Noto Serif CJK SC",serif'>斗式提升机</text>
<text x="700.6" y="41.6" font-size="5" font-weight="400" fill="#111" textLength="25.5" lengthAdjust="spacingAndGlyphs" font-family='"Liberation Serif","Noto Serif CJK SC",serif'>Bucket elevator</text>
<path d="M725.5 98 V76.2 Q725.5 75 726.7 75 H759.8 Q761 75 761 76.2 V98 Z" fill="url(#gHop)" stroke="#232526" stroke-width="0.8"/>
<rect x="725.9" y="75.4" width="34.7" height="9.66" fill="url(#gTopShade)" stroke="none" stroke-width="0.6"/>
<polygon points="725.5,98 761,98 746.85,127 739.65,127" fill="url(#gCone)" stroke="#232526" stroke-width="0.8"/>
<polygon points="726.1,98.4 760.4,98.4 757.8,103.5 728.7,103.5" fill="url(#gConeTop)" stroke="none" stroke-width="0.6"/>
<rect x="739.65" y="127" width="7.2" height="3" fill="url(#gHop)" stroke="#232526" stroke-width="0.6"/>
<path d="M761 98 V76.2 Q761 75 762.2 75 H794.8 Q796 75 796 76.2 V98 Z" fill="url(#gHop)" stroke="#232526" stroke-width="0.8"/>
<rect x="761.4" y="75.4" width="34.2" height="9.66" fill="url(#gTopShade)" stroke="none" stroke-width="0.6"/>
<polygon points="761,98 796,98 782.1,127 774.9,127" fill="url(#gCone)" stroke="#232526" stroke-width="0.8"/>
<polygon points="761.6,98.4 795.4,98.4 792.8,103.5 764.2,103.5" fill="url(#gConeTop)" stroke="none" stroke-width="0.6"/>
<rect x="774.9" y="127" width="7.2" height="3" fill="url(#gHop)" stroke="#232526" stroke-width="0.6"/>
<path d="M796 98 V76.2 Q796 75 797.2 75 H829.8 Q831 75 831 76.2 V98 Z" fill="url(#gHop)" stroke="#232526" stroke-width="0.8"/>
<rect x="796.4" y="75.4" width="34.2" height="9.66" fill="url(#gTopShade)" stroke="none" stroke-width="0.6"/>
<polygon points="796,98 831,98 817.1,127 809.9,127" fill="url(#gCone)" stroke="#232526" stroke-width="0.8"/>
<polygon points="796.6,98.4 830.4,98.4 827.8,103.5 799.2,103.5" fill="url(#gConeTop)" stroke="none" stroke-width="0.6"/>
<rect x="809.9" y="127" width="7.2" height="3" fill="url(#gHop)" stroke="#232526" stroke-width="0.6"/>
<path d="M831 98 V76.2 Q831 75 832.2 75 H865.1 Q866.3 75 866.3 76.2 V98 Z" fill="url(#gHop)" stroke="#232526" stroke-width="0.8"/>
<rect x="831.4" y="75.4" width="34.5" height="9.66" fill="url(#gTopShade)" stroke="none" stroke-width="0.6"/>
<polygon points="831,98 866.3,98 852.25,127 845.05,127" fill="url(#gCone)" stroke="#232526" stroke-width="0.8"/>
<polygon points="831.6,98.4 865.7,98.4 863.1,103.5 834.2,103.5" fill="url(#gConeTop)" stroke="none" stroke-width="0.6"/>
<rect x="845.05" y="127" width="7.2" height="3" fill="url(#gHop)" stroke="#232526" stroke-width="0.6"/>
<g transform="translate(731.5 135)">
<polygon points="6.2,0.4 22.4,0.4 22.4,4.3 10.2,8.2 8.4,7.4" fill="#c2c7c7" stroke="#111" stroke-width="1.1" stroke-linejoin="round"/>
<path d="M7 1 H22" stroke="#111" stroke-width="1.1"/>
<path d="M8.5 2.3 H12 M13.5 2.3 H21" stroke="#f4f6f6" stroke-width="0.8"/>
<path d="M8 3.6 L22 3.3" stroke="#2a2e2f" stroke-width="1"/>
<path d="M10 5 L18.5 4.6 L10.6 7 Z" fill="#e4e8e8"/>
<path d="M1.2 2.8 L7.4 9.6 M2 9.4 L6.2 3.4 M3.4 10.6 L6.4 7.6" stroke="#111" stroke-width="1.1" fill="none" stroke-linecap="round"/>
<circle cx="1.4" cy="2.8" r="1.1" fill="#111"/>
<circle cx="4.4" cy="5.4" r="1.4" fill="#eee" stroke="#555" stroke-width="0.5"/>
<path d="M5.5 8.8 L7 7 L7.5 9.8 Z" fill="#222"/>
</g>
<g transform="translate(766.5 135)">
<polygon points="6.2,0.4 22.4,0.4 22.4,4.3 10.2,8.2 8.4,7.4" fill="#c2c7c7" stroke="#111" stroke-width="1.1" stroke-linejoin="round"/>
<path d="M7 1 H22" stroke="#111" stroke-width="1.1"/>
<path d="M8.5 2.3 H12 M13.5 2.3 H21" stroke="#f4f6f6" stroke-width="0.8"/>
<path d="M8 3.6 L22 3.3" stroke="#2a2e2f" stroke-width="1"/>
<path d="M10 5 L18.5 4.6 L10.6 7 Z" fill="#e4e8e8"/>
<path d="M1.2 2.8 L7.4 9.6 M2 9.4 L6.2 3.4 M3.4 10.6 L6.4 7.6" stroke="#111" stroke-width="1.1" fill="none" stroke-linecap="round"/>
<circle cx="1.4" cy="2.8" r="1.1" fill="#111"/>
<circle cx="4.4" cy="5.4" r="1.4" fill="#eee" stroke="#555" stroke-width="0.5"/>
<path d="M5.5 8.8 L7 7 L7.5 9.8 Z" fill="#222"/>
</g>
<g transform="translate(801.5 135)">
<polygon points="6.2,0.4 22.4,0.4 22.4,4.3 10.2,8.2 8.4,7.4" fill="#c2c7c7" stroke="#111" stroke-width="1.1" stroke-linejoin="round"/>
<path d="M7 1 H22" stroke="#111" stroke-width="1.1"/>
<path d="M8.5 2.3 H12 M13.5 2.3 H21" stroke="#f4f6f6" stroke-width="0.8"/>
<path d="M8 3.6 L22 3.3" stroke="#2a2e2f" stroke-width="1"/>
<path d="M10 5 L18.5 4.6 L10.6 7 Z" fill="#e4e8e8"/>
<path d="M1.2 2.8 L7.4 9.6 M2 9.4 L6.2 3.4 M3.4 10.6 L6.4 7.6" stroke="#111" stroke-width="1.1" fill="none" stroke-linecap="round"/>
<circle cx="1.4" cy="2.8" r="1.1" fill="#111"/>
<circle cx="4.4" cy="5.4" r="1.4" fill="#eee" stroke="#555" stroke-width="0.5"/>
<path d="M5.5 8.8 L7 7 L7.5 9.8 Z" fill="#222"/>
</g>
<g transform="translate(837 135)">
<polygon points="6.2,0.4 22.4,0.4 22.4,4.3 10.2,8.2 8.4,7.4" fill="#c2c7c7" stroke="#111" stroke-width="1.1" stroke-linejoin="round"/>
<path d="M7 1 H22" stroke="#111" stroke-width="1.1"/>
<path d="M8.5 2.3 H12 M13.5 2.3 H21" stroke="#f4f6f6" stroke-width="0.8"/>
<path d="M8 3.6 L22 3.3" stroke="#2a2e2f" stroke-width="1"/>
<path d="M10 5 L18.5 4.6 L10.6 7 Z" fill="#e4e8e8"/>
<path d="M1.2 2.8 L7.4 9.6 M2 9.4 L6.2 3.4 M3.4 10.6 L6.4 7.6" stroke="#111" stroke-width="1.1" fill="none" stroke-linecap="round"/>
<circle cx="1.4" cy="2.8" r="1.1" fill="#111"/>
<circle cx="4.4" cy="5.4" r="1.4" fill="#eee" stroke="#555" stroke-width="0.5"/>
<path d="M5.5 8.8 L7 7 L7.5 9.8 Z" fill="#222"/>
</g>
<path d="M729 150.5 L866 150.5 L914.5 44.6 L929 44.6" fill="none" stroke="#b88654" stroke-width="3.7" stroke-linejoin="round" stroke-linecap="round"/>
<path d="M729 150.5 L866 150.5 L914.5 44.6 L929 44.6" fill="none" stroke="#fff" stroke-width="1.5" stroke-linejoin="round" stroke-linecap="round"/>
<circle cx="929" cy="44.6" r="1.5" fill="#fff" stroke="#b88654" stroke-width="0.8"/>
<circle cx="729" cy="150.5" r="1.5" fill="#fff" stroke="#b88654" stroke-width="0.8"/>
<text x="735" y="69.2" font-size="7" font-weight="700" fill="#111" textLength="15.5" lengthAdjust="spacingAndGlyphs" font-family='"Liberation Serif","Noto Serif CJK SC",serif'>储料仓</text>
<text x="767" y="69.2" font-size="7" font-weight="700" fill="#111" textLength="10.5" lengthAdjust="spacingAndGlyphs" font-family='"Liberation Serif","Noto Serif CJK SC",serif'>锰粉</text>
<text x="804" y="69.2" font-size="7" font-weight="700" fill="#111" textLength="17.5" lengthAdjust="spacingAndGlyphs" font-family='"Liberation Serif","Noto Serif CJK SC",serif'>添加剂1</text>
<text x="838" y="68.8" font-size="7" font-weight="700" fill="#111" textLength="17.5" lengthAdjust="spacingAndGlyphs" font-family='"Liberation Serif","Noto Serif CJK SC",serif'>添加剂2</text>
<path d="M926 48.6 L932.6 48.6 L932.6 57" fill="none" stroke="#00ff00" stroke-width="1.2"/>
<path d="M925 72 V58.2 Q925 57 926.2 57 H948.8 Q950 57 950 58.2 V72 Z" fill="url(#gHop)" stroke="#232526" stroke-width="0.8"/>
<rect x="925.4" y="57.4" width="24.2" height="6.3" fill="url(#gTopShade)" stroke="none" stroke-width="0.6"/>
<polygon points="925,72 950,72 939,94 936,94" fill="url(#gCone)" stroke="#232526" stroke-width="0.8"/>
<polygon points="925.6,72.4 949.4,72.4 946.8,77.5 928.2,77.5" fill="url(#gConeTop)" stroke="none" stroke-width="0.6"/>
<rect x="936" y="94" width="3" height="1.2" fill="url(#gHop)" stroke="#232526" stroke-width="0.6"/>
<text x="919" y="101" font-size="7" font-weight="700" fill="#111" textLength="15.5" lengthAdjust="spacingAndGlyphs" font-family='"Liberation Serif","Noto Serif CJK SC",serif'>缓冲仓</text>
<path d="M937.5 95.5 L948 116 L984 100" fill="none" stroke="#00ff00" stroke-width="1.2"/>
<g>
<rect x="967" y="51.6" width="6.6" height="4.4" fill="#f4f4f4" stroke="#111" stroke-width="0.9"/>
<path d="M967 53.8 H973.6 M969.2 51.6 V56 M971.4 51.6 V56" stroke="#111" stroke-width="0.6"/>
<rect x="968" y="57" width="6" height="6" fill="#f4f4f4" stroke="#111" stroke-width="1.1"/>
<rect x="979" y="52" width="6" height="4" fill="#f4f4f4" stroke="#111" stroke-width="0.9"/>
<path d="M979 54 H985 M981 52 V56 M983 52 V56" stroke="#111" stroke-width="0.6"/>
<path d="M968.6 63 Q969 70 976 73 M973.4 63 Q974 67.5 977 69" stroke="#111" stroke-width="1" fill="none"/>
<rect x="976.5" y="56" width="9.6" height="22.5" fill="#151617" stroke="none" stroke-width="0.6"/>
<rect x="979.2" y="57.6" width="4.6" height="4.6" fill="#8f9495" stroke="#000" stroke-width="0.5"/>
<rect x="980.5" y="58.6" width="2" height="2.6" fill="#dfe3e3" stroke="none" stroke-width="0.6"/>
<path d="M977.6 64.5 L985 77 M985 64.5 L977.6 77 M977.6 70.5 H985 M977.6 64.5 H985" stroke="#c9cdcd" stroke-width="0.8" fill="none"/>
<rect x="986" y="63.5" width="4.6" height="9.6" fill="#2b2e2f" stroke="#111" stroke-width="0.5"/>
<path d="M990.6 69.3 H997.7" stroke="#111" stroke-width="0.9"/>
<rect x="971.3" y="78.4" width="20.2" height="10.2" rx="2.2" fill="url(#gDrum)" stroke="#1c1d1e" stroke-width="0.8"/>
<rect x="972.2" y="87.4" width="18.4" height="2.2" fill="#2e3132" stroke="none" stroke-width="0.6"/>
<polygon points="973.5,89.6 989.3,89.6 981.6,100.2" fill="url(#gDrum2)" stroke="#1c1d1e" stroke-width="0.7"/>
<path d="M993 79 V85.5" stroke="#222" stroke-width="0.9"/>
</g>
<text x="994" y="90.6" font-size="7" font-weight="700" fill="#111" textLength="14.5" lengthAdjust="spacingAndGlyphs" font-family='"Liberation Serif","Noto Serif CJK SC",serif'>选粉机</text>
<path d="M997.7 69.3 L997.7 59" fill="none" stroke="#ff2a2a" stroke-width="1.2"/>
<path d="M997.7 56.5 L997.7 46.4 L1007.5 46.4" fill="none" stroke="#ff2a2a" stroke-width="1.2"/>
<path d="M1012 46.4 L1023 46.4" fill="none" stroke="#ff2a2a" stroke-width="1.2"/>
<path d="M1032.5 46.4 L1049 46.4" fill="none" stroke="#ff2a2a" stroke-width="1.2"/>
<path d="M1053 46.4 L1063.5 46.4" fill="none" stroke="#ff2a2a" stroke-width="1.2"/>
<polygon points="1031,46.4 1023,44.95 1023,47.85" fill="#111" stroke="none" stroke-width="0.6"/>
<rect x="1026.7" y="54" width="8" height="93" fill="url(#gE)" stroke="none" stroke-width="0.6"/>
<path d="M1026.7 58 V52 L1029.7 49 H1038.9 L1041.9 52 V60.2 H1038.5 L1034.7 54.5 V58 Z" fill="url(#gE)"/>
<path d="M1026.7 147 V52 L1029.7 49 H1038.9 L1041.9 52 V60.2 H1038.5 L1034.7 54.5 V147" fill="none" stroke="#1e2021" stroke-width="0.9" stroke-linejoin="round"/>
<path d="M1035 55 L1038.3 59.8" stroke="#151617" stroke-width="1.5"/>
<path d="M1034.3 55.5 V59" stroke="#8a9091" stroke-width="1"/>
<rect x="1025.1" y="65.15" width="11.2" height="1.7" rx="0.6" fill="#161718"/>
<rect x="1025.1" y="85.15" width="11.2" height="1.7" rx="0.6" fill="#161718"/>
<rect x="1025.1" y="105.15" width="11.2" height="1.7" rx="0.6" fill="#161718"/>
<rect x="1025.1" y="126.15" width="11.2" height="1.7" rx="0.6" fill="#161718"/>
<rect x="1023.1" y="147" width="15.4" height="2.9" fill="url(#gV)" stroke="#1e2021" stroke-width="0.7"/>
<polygon points="1017.7,136.5 1026.7,136.5 1026.7,145 1024.7,145" fill="url(#gC)" stroke="#1e2021" stroke-width="0.7"/>
<path d="M981 76 L1039 62" fill="none" stroke="#00ff00" stroke-width="1.2"/>
<rect x="945" y="119" width="6" height="9.5" fill="url(#gV)" stroke="#222" stroke-width="0.7"/>
<polygon points="951,120 958,113 958,134 951,128" fill="url(#gV)" stroke="#222" stroke-width="0.6"/>
<rect x="956" y="111.5" width="52" height="23.5" rx="3.5" fill="url(#gM)" stroke="#222" stroke-width="0.8"/>
<rect x="955.2" y="112.5" width="1.8" height="22" fill="#2a2c2d" stroke="none" stroke-width="0.6"/>
<rect x="1004" y="108.5" width="2.4" height="29" fill="#2a2c2d" stroke="none" stroke-width="0.6"/>
<polygon points="1007,113 1012,119 1012,129 1007,134" fill="url(#gV)" stroke="#222" stroke-width="0.6"/>
<rect x="1012" y="119.5" width="7.5" height="9" fill="url(#gV)" stroke="#222" stroke-width="0.7"/>
<rect x="1019" y="117.5" width="1.8" height="13" fill="#2a2c2d" stroke="none" stroke-width="0.6"/>
<rect x="1012.5" y="128.5" width="5" height="4" fill="#f2f2f2" stroke="#222" stroke-width="0.6"/>
<path d="M957.8 114.5 h3.4 M959.5 112.8 v3.4M973.3 114.5 h3.4 M975 112.8 v3.4M988.8 114.5 h3.4 M990.5 112.8 v3.4M965.8 122.5 h3.4 M967.5 120.8 v3.4M981.3 122.5 h3.4 M983 120.8 v3.4M996.8 122.5 h3.4 M998.5 120.8 v3.4M957.8 130.5 h3.4 M959.5 128.8 v3.4M973.3 130.5 h3.4 M975 128.8 v3.4M988.8 130.5 h3.4 M990.5 128.8 v3.4" stroke="#111" stroke-width="0.8"/>
<path d="M1021 131 V138" stroke="#222" stroke-width="0.8"/>
<text x="976" y="144.6" font-size="8" font-weight="700" fill="#111" textLength="25" lengthAdjust="spacingAndGlyphs" font-family='"Liberation Serif","Noto Serif CJK SC",serif'>球 磨 机</text>
<rect x="1062.8" y="43.5" width="1.6" height="8" fill="#777" stroke="#222" stroke-width="0.4"/>
<rect x="1064" y="31" width="31.6" height="40" fill="#3434f4" stroke="#0c0c5c" stroke-width="1"/>
<rect x="1064" y="31" width="31.6" height="6.88" fill="#1a1a9c" stroke="#0c0c5c" stroke-width="0.8"/>
<path d="M1066 35.54 H1094.6" stroke="#4a4aff" stroke-width="1.1" stroke-dasharray="4.9 3.16"/>
<path d="M1069.69 37.88 V71M1078.06 37.88 V71M1086.28 37.88 V71M1064 43.6 H1095.6M1064 50.68 H1095.6M1064 57.76 H1095.6M1064 64.64 H1095.6" stroke="#0e0e62" stroke-width="1.5" fill="none"/>
<polygon points="1064.4,71 1074.13,71 1069.37,82 1068.37,82" fill="#2c2ce6" stroke="#0c0c5c" stroke-width="0.9"/>
<path d="M1068.87 82 V88.5" stroke="#00ff00" stroke-width="1.3"/>
<polygon points="1074.93,71 1084.67,71 1079.9,82 1078.9,82" fill="#2c2ce6" stroke="#0c0c5c" stroke-width="0.9"/>
<path d="M1079.4 82 V88.5" stroke="#00ff00" stroke-width="1.3"/>
<polygon points="1085.47,71 1095.2,71 1090.43,82 1089.43,82" fill="#2c2ce6" stroke="#0c0c5c" stroke-width="0.9"/>
<path d="M1089.93 82 V88.5" stroke="#00ff00" stroke-width="1.3"/>
<rect x="1095.3" y="57.5" width="1.7" height="7" fill="#777" stroke="#222" stroke-width="0.4"/>
<path d="M1096.5 63 L1117 63" fill="none" stroke="#ff2a2a" stroke-width="1.2"/>
<g transform="translate(1116 58)">
<path d="M3.38 0.77 L11.7 0.4 L11.7 4.62 L7.64 5.5 Z" fill="#9ccccc" stroke="#0e0e0e" stroke-width="0.99" stroke-linejoin="round"/>
<rect x="-0.13" y="0.77" width="9.86" height="9.46" rx="2.13" fill="#0e0e0e"/>
<circle cx="4.8" cy="5.5" r="3.12" fill="#fff" stroke="none" stroke-width="0.6"/>
<circle cx="4.8" cy="5.5" r="1.89" fill="#0e0e0e" stroke="none" stroke-width="0.6"/>
<circle cx="4.8" cy="5.5" r="0.95" fill="#fff" stroke="none" stroke-width="0.6"/>
<polygon points="-0.17,11 10.48,11 8.11,9.24 1.49,9.24" fill="#9ccccc" stroke="#0e0e0e" stroke-width="0.77"/>
</g>
<path d="M1128 61 L1148 61" fill="none" stroke="#ff2a2a" stroke-width="1.2"/>
<polygon points="1140.5,61 1133.5,59.55 1133.5,62.45" fill="#111" stroke="none" stroke-width="0.6"/>
<polygon points="1151.4,28 1158.6,28 1158.6,60 1161.2,73 1148.8,73 1151.4,60" fill="url(#gH)" stroke="#2a2c2d" stroke-width="0.7"/>
<path d="M1151.4 60 H1158.6" stroke="#2a2c2d" stroke-width="0.6"/>
<text x="1156.5" y="84" font-size="4.4" font-weight="700" fill="#111" textLength="10.5" lengthAdjust="spacingAndGlyphs" font-family='"Liberation Serif","Noto Serif CJK SC",serif'>排气筒</text>
<text x="1151" y="89.2" font-size="4.8" font-weight="400" fill="#111" textLength="22.5" lengthAdjust="spacingAndGlyphs" font-family='"Liberation Serif","Noto Serif CJK SC",serif'>Exhaust stack</text>
<rect x="1065" y="90" width="63" height="5.2" fill="url(#gV)" stroke="#222" stroke-width="0.7"/>
<path d="M1072 91.3 H1118" stroke="#d8dada" stroke-width="0.7"/>
<rect x="1065" y="89.2" width="5.5" height="6.8" fill="#2a2c2d" stroke="none" stroke-width="0.6"/>
<path d="M1066.5 89.5 V96 M1068.5 89.5 V96" stroke="#ddd" stroke-width="0.6"/>
<rect x="1122" y="89.2" width="6.5" height="6.8" fill="#2a2c2d" stroke="none" stroke-width="0.6"/>
<path d="M1124 89.5 V96 M1126 89.5 V96" stroke="#ddd" stroke-width="0.6"/>
<rect x="1117.5" y="94.5" width="1.5" height="2.5" fill="#222" stroke="none" stroke-width="0.6"/>
<rect x="1112" y="93.5" width="1.2" height="2.5" fill="#222" stroke="none" stroke-width="0.6"/>
<rect x="1068.5" y="88.2" width="3" height="1" fill="#111" stroke="none" stroke-width="0.6"/>
<rect x="1079" y="88.2" width="3" height="1" fill="#111" stroke="none" stroke-width="0.6"/>
<rect x="1089.5" y="88.2" width="3" height="1" fill="#111" stroke="none" stroke-width="0.6"/>
<text x="1068" y="104.6" font-size="7" font-weight="700" fill="#111" textLength="16.5" lengthAdjust="spacingAndGlyphs" font-family='"Liberation Serif","Noto Serif CJK SC",serif'>除尘器</text>
<path d="M1116.5 96 L1105.6 182" fill="none" stroke="#00ff00" stroke-width="1.2"/>
<path d="M1126.3 96 L1147.5 182" fill="none" stroke="#00ff00" stroke-width="1.2"/>
<rect x="49.5" y="331" width="99" height="45.6" fill="none" stroke="#00ffff" stroke-width="1.2"/>
<polygon points="53.5,336 145,340 145,367.2 53.5,372" fill="none" stroke="#ff30ff" stroke-width="1.2"/>
<g stroke="#00ffff" stroke-width="1.2" fill="none" stroke-linejoin="round">
<rect x="28.6" y="351.4" width="7.2" height="6.6" rx="2.2"/><path d="M31 351.4 V358 M33.4 351.4 V358"/>
<path d="M36 354.7 H48.5 M38.2 351 L44.2 358.2 M44.2 351 L38.2 358.2 M38.6 350.4 H43.8 M38.6 358.6 H43.8 M41.2 349 V350.4"/>
<path d="M45.2 351.6 L48.8 354.7 L45.2 357.8 Z"/>
<path d="M29.5 359.6 H35 M37.5 360 H47.5" stroke-width="1.6"/>
<path d="M29 361 H49.5 M30 361 L49.5 376.5"/>
<path d="M148.5 349 Q152.6 355 148.5 361 M150.2 350.5 V359.5"/>
</g>
<path d="M54 377.2 L63.15 392 L72.3 377.2 L81.5 392 L90.7 377.2 L99.85 392 L109 377.2 L118.15 392 L127.3 377.2 L136.65 392 L146 377.2" fill="none" stroke="#222" stroke-width="0.9"/>
<rect x="61.85" y="391" width="2.6" height="2.2" fill="#ddd" stroke="#222" stroke-width="0.6"/>
<rect x="80.2" y="391" width="2.6" height="2.2" fill="#ddd" stroke="#222" stroke-width="0.6"/>
<rect x="98.55" y="391" width="2.6" height="2.2" fill="#ddd" stroke="#222" stroke-width="0.6"/>
<rect x="116.85" y="391" width="2.6" height="2.2" fill="#ddd" stroke="#222" stroke-width="0.6"/>
<rect x="135.35" y="391" width="2.6" height="2.2" fill="#ddd" stroke="#222" stroke-width="0.6"/>
<path d="M49.7 376.6 L49.7 411.5" fill="none" stroke="#00ffff" stroke-width="1.1"/>
<path d="M56 376.6 L56 411.5" fill="none" stroke="#00ffff" stroke-width="1.1"/>
<path d="M51.8 374 L51.8 411.5" fill="none" stroke="#c8ff00" stroke-width="1.3"/>
<path d="M148.3 376.6 L148.3 411.5" fill="none" stroke="#00ffff" stroke-width="1.1"/>
<path d="M146.3 374 L146.3 411.5" fill="none" stroke="#c8ff00" stroke-width="1.3"/>
<text x="88" y="420.4" font-size="7" font-weight="700" fill="#111" textLength="15.5" lengthAdjust="spacingAndGlyphs" font-family='"Liberation Serif","Noto Serif CJK SC",serif'>圆筒筛</text>
<rect x="171.2" y="321" width="8" height="94" fill="url(#gE)" stroke="none" stroke-width="0.6"/>
<path d="M179.2 325 V319 L176.2 316 H167 L164 319 V327.2 H167.4 L171.2 321.5 V325 Z" fill="url(#gE)"/>
<path d="M179.2 415 V319 L176.2 316 H167 L164 319 V327.2 H167.4 L171.2 321.5 V415" fill="none" stroke="#1e2021" stroke-width="0.9" stroke-linejoin="round"/>
<path d="M170.9 322 L167.6 326.8" stroke="#151617" stroke-width="1.5"/>
<path d="M171.6 322.5 V326" stroke="#8a9091" stroke-width="1"/>
<rect x="169.6" y="332.15" width="11.2" height="1.7" rx="0.6" fill="#161718"/>
<rect x="169.6" y="353.15" width="11.2" height="1.7" rx="0.6" fill="#161718"/>
<rect x="169.6" y="373.65" width="11.2" height="1.7" rx="0.6" fill="#161718"/>
<rect x="169.6" y="394.15" width="11.2" height="1.7" rx="0.6" fill="#161718"/>
<rect x="167.6" y="415" width="15.4" height="2.9" fill="url(#gV)" stroke="#1e2021" stroke-width="0.7"/>
<polygon points="188.2,404.5 179.2,404.5 179.2,413 181.2,413" fill="url(#gC)" stroke="#1e2021" stroke-width="0.7"/>
<path d="M145.5 345.5 L166.5 328" fill="none" stroke="#00ff00" stroke-width="1.2"/>
<path d="M187 406.3 L195 396.3" fill="none" stroke="#00ff00" stroke-width="1.2"/>
<text x="164" y="301" font-size="4.3" font-weight="700" fill="#111" textLength="16.5" lengthAdjust="spacingAndGlyphs" font-family='"Liberation Serif","Noto Serif CJK SC",serif'>斗式提升机</text>
<text x="157.5" y="307.2" font-size="5" font-weight="400" fill="#111" textLength="25.5" lengthAdjust="spacingAndGlyphs" font-family='"Liberation Serif","Noto Serif CJK SC",serif'>Bucket elevator</text>
<polygon points="197,375 390,368 390,391 197,398" fill="url(#gV)" stroke="#141516" stroke-width="1"/>
<path d="M228 374 V397 M267 372.5 V395.5 M343.5 370 V392.5 M362 369 V392" stroke="#2a2c2d" stroke-width="0.6" opacity="0.8"/>
<polygon points="388.8,357 401.5,357 401.5,373 391,391.3 388,391.3 388,368.2" fill="url(#gC2)" stroke="#222" stroke-width="0.7"/>
<path d="M236.3 400.5 V371.7 L238 370.5 L239.7 371.7 V400.5 Z" fill="url(#gT)" stroke="#161718" stroke-width="0.8" stroke-linejoin="round"/>
<path d="M255.3 400.5 V367.2 L257 366 L258.7 367.2 V400.5 Z" fill="url(#gT)" stroke="#161718" stroke-width="0.8" stroke-linejoin="round"/>
<path d="M350.5 395 V367.7 L352.3 366.5 L354.1 367.7 V395 Z" fill="url(#gT)" stroke="#161718" stroke-width="0.8" stroke-linejoin="round"/>
<rect x="232" y="402.67" width="14" height="4.83" fill="#fafafa" stroke="#111" stroke-width="1"/>
<rect x="232.84" y="397.15" width="12.32" height="5.75" fill="#1b1c1d" stroke="none" stroke-width="0.6"/>
<rect x="234.8" y="399.45" width="1.96" height="1.84" fill="#d8d8d8" stroke="none" stroke-width="0.6"/>
<rect x="241.24" y="399.45" width="1.96" height="1.84" fill="#d8d8d8" stroke="none" stroke-width="0.6"/>
<rect x="236.2" y="396" width="5.6" height="2.3" fill="#1b1c1d" stroke="none" stroke-width="0.6"/>
<path d="M233 404.97 H245" stroke="#111" stroke-width="0.7"/>
<rect x="252.5" y="407.99" width="35.25" height="5.51" fill="#fafafa" stroke="#111" stroke-width="0.9"/>
<path d="M262.25 407.99 V413.5 M271.62 407.99 V413.5 M281 407.99 V413.5" stroke="#111" stroke-width="0.7"/>
<rect x="251" y="402.19" width="4.88" height="6.09" rx="1" fill="#1b1c1d"/>
<rect x="256.62" y="403.35" width="2.63" height="4.35" fill="#1b1c1d" stroke="none" stroke-width="0.6"/>
<circle cx="254.75" cy="405.24" r="1.45" fill="#d8d8d8" stroke="none" stroke-width="0.6"/>
<rect x="260.38" y="402.62" width="1.88" height="5.8" fill="#1b1c1d" stroke="none" stroke-width="0.6"/>
<rect x="263.38" y="402.62" width="1.88" height="5.8" fill="#1b1c1d" stroke="none" stroke-width="0.6"/>
<path d="M266.75 403.35 Q269.38 398.27 272 403.35 V407.99 H266.75 Z" fill="#fafafa" stroke="#111" stroke-width="1"/>
<rect x="268.25" y="403.35" width="2.25" height="4.35" fill="#1b1c1d" stroke="none" stroke-width="0.6"/>
<rect x="273.5" y="403.35" width="3.75" height="4.64" fill="#1b1c1d" stroke="none" stroke-width="0.6"/>
<rect x="278.75" y="401.61" width="7.5" height="6.38" fill="#fafafa" stroke="#111" stroke-width="0.9"/>
<rect x="280.62" y="400.45" width="3.75" height="4.35" fill="#1b1c1d" stroke="none" stroke-width="0.6"/>
<path d="M251 405.52 H287.38" stroke="#111" stroke-width="1"/>
<rect x="345.5" y="398.67" width="14.5" height="4.83" fill="#fafafa" stroke="#111" stroke-width="1"/>
<rect x="346.37" y="393.15" width="12.76" height="5.75" fill="#1b1c1d" stroke="none" stroke-width="0.6"/>
<rect x="348.4" y="395.45" width="2.03" height="1.84" fill="#d8d8d8" stroke="none" stroke-width="0.6"/>
<rect x="355.07" y="395.45" width="2.03" height="1.84" fill="#d8d8d8" stroke="none" stroke-width="0.6"/>
<rect x="349.85" y="392" width="5.8" height="2.3" fill="#1b1c1d" stroke="none" stroke-width="0.6"/>
<path d="M346.5 400.97 H359" stroke="#111" stroke-width="0.7"/>
<text x="306" y="420.4" font-size="7" font-weight="500" fill="#111" textLength="16" lengthAdjust="spacingAndGlyphs" font-family='"Liberation Serif","Noto Serif CJK SC",serif'>冷却机</text>
<rect x="387" y="315" width="17.3" height="42" fill="url(#gHood)" stroke="#222" stroke-width="0.8"/>
<path d="M401 321.5 V351" stroke="#444" stroke-width="0.6"/>
<polygon points="404.3,321 407,320 412,322 412,350.5 407,353 404.3,352" fill="#3c3f40" stroke="#111" stroke-width="0.6"/>
<path d="M405.5 325 h4.5M405.5 328 h4.5M405.5 331 h4.5M405.5 334 h4.5M405.5 337 h4.5M405.5 340 h4.5M405.5 343 h4.5M405.5 346 h4.5M405.5 349 h4.5" stroke="#d5d8d8" stroke-width="1.2"/>
<circle cx="412.2" cy="355.5" r="0.9" fill="#fff" stroke="#111" stroke-width="0.6"/>
<path d="M412.2 350 V354.6" stroke="#111" stroke-width="0.5"/>
<rect x="385.2" y="327.5" width="1.8" height="2.6" fill="#ff2020" stroke="none" stroke-width="0.6"/>
<polygon points="412,322.3 660.5,313.6 660.5,340.6 412,350.3" fill="url(#gV)" stroke="#141516" stroke-width="1.1"/>
<path d="M464.9 352.5 V317.7 L467 316.5 L469.1 317.7 V352.5 Z" fill="url(#gT)" stroke="#161718" stroke-width="0.8" stroke-linejoin="round"/>
<path d="M551.9 352 V310.7 L554.5 309.5 L557.1 310.7 V352 Z" fill="url(#gT)" stroke="#161718" stroke-width="0.8" stroke-linejoin="round"/>
<path d="M578.5 348.5 V314.2 L580.5 313 L582.5 314.2 V348.5 Z" fill="url(#gT)" stroke="#161718" stroke-width="0.8" stroke-linejoin="round"/>
<rect x="461" y="358.7" width="14.5" height="6.3" fill="#fafafa" stroke="#111" stroke-width="1"/>
<rect x="461.87" y="351.5" width="12.76" height="7.5" fill="#1b1c1d" stroke="none" stroke-width="0.6"/>
<rect x="463.9" y="354.5" width="2.03" height="2.4" fill="#d8d8d8" stroke="none" stroke-width="0.6"/>
<rect x="470.57" y="354.5" width="2.03" height="2.4" fill="#d8d8d8" stroke="none" stroke-width="0.6"/>
<rect x="465.35" y="350" width="5.8" height="3" fill="#1b1c1d" stroke="none" stroke-width="0.6"/>
<path d="M462 361.7 H474.5" stroke="#111" stroke-width="0.7"/>
<rect x="518.84" y="357.09" width="43.24" height="7.41" fill="#fafafa" stroke="#111" stroke-width="0.9"/>
<path d="M530.8 357.09 V364.5 M542.3 357.09 V364.5 M553.8 357.09 V364.5" stroke="#111" stroke-width="0.7"/>
<rect x="517" y="349.29" width="5.98" height="8.19" rx="1" fill="#1b1c1d"/>
<rect x="523.9" y="350.85" width="3.22" height="5.85" fill="#1b1c1d" stroke="none" stroke-width="0.6"/>
<circle cx="521.6" cy="353.38" r="1.95" fill="#d8d8d8" stroke="none" stroke-width="0.6"/>
<rect x="528.5" y="349.88" width="2.3" height="7.8" fill="#1b1c1d" stroke="none" stroke-width="0.6"/>
<rect x="532.18" y="349.88" width="2.3" height="7.8" fill="#1b1c1d" stroke="none" stroke-width="0.6"/>
<path d="M536.32 350.85 Q539.54 344.02 542.76 350.85 V357.09 H536.32 Z" fill="#fafafa" stroke="#111" stroke-width="1"/>
<rect x="538.16" y="350.85" width="2.76" height="5.85" fill="#1b1c1d" stroke="none" stroke-width="0.6"/>
<rect x="544.6" y="350.85" width="4.6" height="6.24" fill="#1b1c1d" stroke="none" stroke-width="0.6"/>
<rect x="551.04" y="348.51" width="9.2" height="8.58" fill="#fafafa" stroke="#111" stroke-width="0.9"/>
<rect x="553.34" y="346.95" width="4.6" height="5.85" fill="#1b1c1d" stroke="none" stroke-width="0.6"/>
<path d="M517 353.77 H561.62" stroke="#111" stroke-width="1"/>
<rect x="571.5" y="356.23" width="19.5" height="7.77" fill="#fafafa" stroke="#111" stroke-width="1"/>
<rect x="572.67" y="347.35" width="17.16" height="9.25" fill="#1b1c1d" stroke="none" stroke-width="0.6"/>
<rect x="575.4" y="351.05" width="2.73" height="2.96" fill="#d8d8d8" stroke="none" stroke-width="0.6"/>
<rect x="584.37" y="351.05" width="2.73" height="2.96" fill="#d8d8d8" stroke="none" stroke-width="0.6"/>
<rect x="577.35" y="345.5" width="7.8" height="3.7" fill="#1b1c1d" stroke="none" stroke-width="0.6"/>
<path d="M572.5 359.93 H590" stroke="#111" stroke-width="0.7"/>
<text x="484.5" y="391.2" font-size="7" font-weight="700" fill="#111" textLength="15.8" lengthAdjust="spacingAndGlyphs" font-family='"Liberation Serif","Noto Serif CJK SC",serif'>回转窑</text>
<rect x="366" y="333" width="21" height="4.6" fill="#dfe1e1" stroke="#222" stroke-width="0.7"/>
<path d="M343 330.2 L352 330.2" fill="none" stroke="#2030ff" stroke-width="1.2"/>
<polygon points="360.5,330.2 353.5,328.75 353.5,331.65" fill="#111" stroke="none" stroke-width="0.6"/>
<path d="M363.5 330.2 L375.5 330.2" fill="none" stroke="#2030ff" stroke-width="1.2"/>
<path d="M371 330.2 L374 334" fill="none" stroke="#2030ff" stroke-width="1"/>
<path d="M375.5 330.2 L378.5 334" fill="none" stroke="#2030ff" stroke-width="1"/>
<g transform="translate(333.8 327.8)">
<path d="M2.3 0.6 L8.2 0.4 L8.2 3.57 L5.59 4.25 Z" fill="#9ccccc" stroke="#0e0e0e" stroke-width="0.77" stroke-linejoin="round"/>
<rect x="-0.45" y="0.6" width="7.71" height="7.31" rx="1.64" fill="#0e0e0e"/>
<circle cx="3.4" cy="4.25" r="2.41" fill="#fff" stroke="none" stroke-width="0.6"/>
<circle cx="3.4" cy="4.25" r="1.46" fill="#0e0e0e" stroke="none" stroke-width="0.6"/>
<circle cx="3.4" cy="4.25" r="0.73" fill="#fff" stroke="none" stroke-width="0.6"/>
<polygon points="-0.44,8.5 7.79,8.5 5.96,7.14 0.84,7.14" fill="#9ccccc" stroke="#0e0e0e" stroke-width="0.6"/>
</g>
<text x="334" y="322.4" font-size="4.4" font-weight="700" fill="#111" textLength="12" lengthAdjust="spacingAndGlyphs" font-family='"Liberation Serif","Noto Serif CJK SC",serif'>一次风机</text>
<text x="324" y="328" font-size="4.8" font-weight="400" fill="#111" textLength="26" lengthAdjust="spacingAndGlyphs" font-family='"Liberation Serif","Noto Serif CJK SC",serif'>Primary air fan</text>
<path d="M320 345 L340 345" fill="none" stroke="#ff30ff" stroke-width="1.2" stroke-dasharray="7 1.5 2 1.5"/>
<path d="M340 345 L346 345" fill="none" stroke="#ff30ff" stroke-width="1.2"/>
<polygon points="353,345 346,343.55 346,346.45" fill="#111" stroke="none" stroke-width="0.6"/>
<path d="M353 345 L358.5 345 L358.5 336 L366 336" fill="none" stroke="#ff30ff" stroke-width="1.2"/>
<text x="324.5" y="343.2" font-size="4.6" font-weight="700" fill="#111" textLength="7" lengthAdjust="spacingAndGlyphs" font-family='"Liberation Serif","Noto Serif CJK SC",serif'>燃料</text>
<text x="334.5" y="343.2" font-size="4.8" font-weight="700" fill="#111" textLength="6" lengthAdjust="spacingAndGlyphs" font-family='"Liberation Serif","Noto Serif CJK SC",serif'>Fuel</text>
<polygon points="504.3,182 511.5,182 511.5,243 514.1,256.3 501.7,256.3 504.3,243" fill="url(#gH)" stroke="#2a2c2d" stroke-width="0.7"/>
<path d="M504.3 243 H511.5" stroke="#2a2c2d" stroke-width="0.6"/>
<text x="504" y="276" font-size="7" font-weight="700" fill="#111" textLength="10.3" lengthAdjust="spacingAndGlyphs" font-family='"Liberation Serif","Noto Serif CJK SC",serif'>烟囱</text>
<path d="M518 242.4 L537 242.4" fill="none" stroke="#ff2a2a" stroke-width="1.2"/>
<polygon points="521.5,242.4 528.5,240.95 528.5,243.85" fill="#111" stroke="none" stroke-width="0.6"/>
<g transform="translate(537 239) translate(12 0) scale(-1 1)">
<path d="M3.38 0.77 L11.7 0.4 L11.7 4.62 L7.64 5.5 Z" fill="#9ccccc" stroke="#0e0e0e" stroke-width="0.99" stroke-linejoin="round"/>
<rect x="-0.13" y="0.77" width="9.86" height="9.46" rx="2.13" fill="#0e0e0e"/>
<circle cx="4.8" cy="5.5" r="3.12" fill="#fff" stroke="none" stroke-width="0.6"/>
<circle cx="4.8" cy="5.5" r="1.89" fill="#0e0e0e" stroke="none" stroke-width="0.6"/>
<circle cx="4.8" cy="5.5" r="0.95" fill="#fff" stroke="none" stroke-width="0.6"/>
<polygon points="-0.17,11 10.48,11 8.11,9.24 1.49,9.24" fill="#9ccccc" stroke="#0e0e0e" stroke-width="0.77"/>
</g>
<path d="M549.5 244.2 L568 244.2" fill="none" stroke="#ff2a2a" stroke-width="1.2"/>
<rect x="567.6" y="238" width="1.8" height="8" fill="#777" stroke="#222" stroke-width="0.4"/>
<rect x="569.5" y="212" width="31.5" height="39.5" fill="#3434f4" stroke="#0c0c5c" stroke-width="1"/>
<rect x="569.5" y="212" width="31.5" height="6.79" fill="#1a1a9c" stroke="#0c0c5c" stroke-width="0.8"/>
<path d="M571.5 216.48 H600" stroke="#4a4aff" stroke-width="1.1" stroke-dasharray="4.88 3.15"/>
<path d="M575.17 218.79 V251.5M583.52 218.79 V251.5M591.71 218.79 V251.5M569.5 224.44 H601M569.5 231.43 H601M569.5 238.43 H601M569.5 245.22 H601" stroke="#0e0e62" stroke-width="1.5" fill="none"/>
<polygon points="569.9,251.5 579.6,251.5 574.85,263 573.85,263" fill="#2c2ce6" stroke="#0c0c5c" stroke-width="0.9"/>
<path d="M574.35 263 V270" stroke="#00ff00" stroke-width="1.3"/>
<polygon points="580.4,251.5 590.1,251.5 585.35,263 584.35,263" fill="#2c2ce6" stroke="#0c0c5c" stroke-width="0.9"/>
<path d="M584.85 263 V270" stroke="#00ff00" stroke-width="1.3"/>
<polygon points="590.9,251.5 600.6,251.5 595.85,263 594.85,263" fill="#2c2ce6" stroke="#0c0c5c" stroke-width="0.9"/>
<path d="M595.35 263 V270" stroke="#00ff00" stroke-width="1.3"/>
<rect x="600.8" y="224" width="1.7" height="8" fill="#777" stroke="#222" stroke-width="0.4"/>
<text x="577" y="280.4" font-size="7" font-weight="700" fill="#111" textLength="16.5" lengthAdjust="spacingAndGlyphs" font-family='"Liberation Serif","Noto Serif CJK SC",serif'>除尘器</text>
<path d="M602.5 228 L611 228" fill="none" stroke="#ff2a2a" stroke-width="1.2"/>
<polygon points="611,228 618,226.55 618,229.45" fill="#111" stroke="none" stroke-width="0.6"/>
<path d="M618 228 L625 228" fill="none" stroke="#ff2a2a" stroke-width="1.2"/>
<path d="M629 228 L692.6 228" fill="none" stroke="#ff2a2a" stroke-width="1.2" stroke-dasharray="17 5"/>
<path d="M686 228 L692.6 228 L693 234" fill="none" stroke="#ff2a2a" stroke-width="1.2"/>
<polygon points="693,232.2 820.5,228 820.5,249 693,252.2" fill="url(#gV)" stroke="#141516" stroke-width="0.9"/>
<rect x="820.5" y="225.5" width="12.5" height="23.5" fill="url(#gH)" stroke="#222" stroke-width="0.7"/>
<path d="M822.5 249 V255 M831 249 V255 M822.5 254.6 H831" stroke="#222" stroke-width="1"/>
<rect x="825" y="223.5" width="4" height="2" fill="#222" stroke="none" stroke-width="0.6"/>
<path d="M711.7 256 V230.2 L713 229 L714.3 230.2 V256 Z" fill="url(#gT)" stroke="#161718" stroke-width="0.8" stroke-linejoin="round"/>
<path d="M730.5 256 V227.2 L732 226 L733.5 227.2 V256 Z" fill="url(#gT)" stroke="#161718" stroke-width="0.8" stroke-linejoin="round"/>
<path d="M794.1 252.5 V227.7 L795.5 226.5 L796.9 227.7 V252.5 Z" fill="url(#gT)" stroke="#161718" stroke-width="0.8" stroke-linejoin="round"/>
<polygon points="710.75,253 715.75,253 718.25,258.32 708.25,258.32" fill="#33393a" stroke="#151617" stroke-width="0.6"/>
<rect x="707" y="258.17" width="12.5" height="2.43" fill="#b4b9b9" stroke="#222" stroke-width="0.6"/>
<rect x="730.18" y="256.44" width="27.73" height="4.56" fill="#fafafa" stroke="#111" stroke-width="0.9"/>
<path d="M737.85 256.44 V261 M745.23 256.44 V261 M752.6 256.44 V261" stroke="#111" stroke-width="0.7"/>
<rect x="729" y="251.64" width="3.83" height="5.04" rx="1" fill="#1b1c1d"/>
<rect x="733.42" y="252.6" width="2.07" height="3.6" fill="#1b1c1d" stroke="none" stroke-width="0.6"/>
<circle cx="731.95" cy="254.16" r="1.2" fill="#d8d8d8" stroke="none" stroke-width="0.6"/>
<rect x="736.38" y="252" width="1.48" height="4.8" fill="#1b1c1d" stroke="none" stroke-width="0.6"/>
<rect x="738.74" y="252" width="1.48" height="4.8" fill="#1b1c1d" stroke="none" stroke-width="0.6"/>
<path d="M741.39 252.6 Q743.46 248.4 745.52 252.6 V256.44 H741.39 Z" fill="#fafafa" stroke="#111" stroke-width="1"/>
<rect x="742.57" y="252.6" width="1.77" height="3.6" fill="#1b1c1d" stroke="none" stroke-width="0.6"/>
<rect x="746.7" y="252.6" width="2.95" height="3.84" fill="#1b1c1d" stroke="none" stroke-width="0.6"/>
<rect x="750.83" y="251.16" width="5.9" height="5.28" fill="#fafafa" stroke="#111" stroke-width="0.9"/>
<rect x="752.3" y="250.2" width="2.95" height="3.6" fill="#1b1c1d" stroke="none" stroke-width="0.6"/>
<path d="M729 254.4 H757.62" stroke="#111" stroke-width="1"/>
<polygon points="729.75,254 734.75,254 737.25,258.9 727.25,258.9" fill="#33393a" stroke="#151617" stroke-width="0.6"/>
<rect x="726" y="258.76" width="12.5" height="2.24" fill="#b4b9b9" stroke="#222" stroke-width="0.6"/>
<polygon points="792.9,251.5 798.1,251.5 800.7,257.17 790.3,257.17" fill="#33393a" stroke="#151617" stroke-width="0.6"/>
<rect x="789" y="257.01" width="13" height="2.59" fill="#b4b9b9" stroke="#222" stroke-width="0.6"/>
<path d="M707 260.6 H758" stroke="#222" stroke-width="0.6"/>
<text x="755" y="222.2" font-size="7" font-weight="700" fill="#111" textLength="16.5" lengthAdjust="spacingAndGlyphs" font-family='"Liberation Serif","Noto Serif CJK SC",serif'>烘干机</text>
<path d="M833 235.3 L846.2 235.3 L846.2 243" fill="none" stroke="#ff2a2a" stroke-width="1.2"/>
<path d="M846.2 243 L846.2 289.2" fill="none" stroke="#ff2a2a" stroke-width="1.2" stroke-dasharray="12 3"/>
<path d="M846.2 283 L846.2 289.2 L840 289.2" fill="none" stroke="#ff2a2a" stroke-width="1.2"/>
<path d="M840 289.2 L728.2 289.2" fill="none" stroke="#ff2a2a" stroke-width="1.2" stroke-dasharray="14 3.5"/>
<polygon points="747,289.2 740,287.75 740,290.65" fill="#111" stroke="none" stroke-width="0.6"/>
<path d="M734 289.2 L728.2 289.2 L728.2 295" fill="none" stroke="#ff2a2a" stroke-width="1.2"/>
<path d="M728.2 295 L728.2 389.3" fill="none" stroke="#ff2a2a" stroke-width="1.2" stroke-dasharray="13 3"/>
<path d="M689.5 332.3 L728.2 332.3" fill="none" stroke="#ff2a2a" stroke-width="1.1"/>
<rect x="723" y="359.2" width="5.6" height="4" rx="1.3" fill="#fff" stroke="#111" stroke-width="1"/>
<rect x="729" y="359.2" width="5.6" height="4" rx="1.3" fill="#fff" stroke="#111" stroke-width="1"/>
<rect x="728" y="360.3" width="1.8" height="1.8" fill="#111" stroke="none" stroke-width="0.6"/>
<path d="M734.6 361.2 h2" stroke="#111" stroke-width="0.7"/>
<polygon points="741,361.2 738.5,360 736.6,361.2 738.5,362.4" fill="#111" stroke="none" stroke-width="0.6"/>
<path d="M728.2 385 L728.2 389.3 L735 389.3" fill="none" stroke="#ff2a2a" stroke-width="1.2"/>
<polygon points="733.5,389.3 739.5,387.85 739.5,390.75" fill="#111" stroke="none" stroke-width="0.6"/>
<path d="M741 389.3 L750 389.3" fill="none" stroke="#ff2a2a" stroke-width="1.2"/>
<text x="668" y="262.6" font-size="7" font-weight="700" fill="#111" textLength="16" lengthAdjust="spacingAndGlyphs" font-family='"Liberation Serif","Noto Serif CJK SC",serif'>圆筒筛</text>
<rect x="691.2" y="256" width="3" height="16.5" fill="url(#gH)" stroke="#222" stroke-width="0.5"/>
<rect x="662" y="269.5" width="28.5" height="11" fill="#ff2cf0" stroke="none" stroke-width="0.6"/>
<g stroke="#00ffff" stroke-width="0.9" fill="none">
<rect x="661.5" y="268.8" width="29.5" height="12"/>
<path d="M648.5 298 V273.5 Q650.2 271.5 652 273.5 V298 M654.5 298 V273.5 Q656.3 271.5 658 273.5 V298 M648.5 276 H661.5 M652 279 H661.5 M664 266.5 V269 M678 269.5 h5 v2.5 h-5 z"/>
</g>
<path d="M661.8 281 L661.8 298" fill="none" stroke="#20ff20" stroke-width="1.2"/>
<path d="M691 281 L691 298" fill="none" stroke="#20ff20" stroke-width="1.2"/>
<path d="M663 281.3 L676.5 291 L690 281.3" fill="none" stroke="#222" stroke-width="0.8"/>
<rect x="670" y="290.5" width="21" height="2.6" fill="#222" stroke="none" stroke-width="0.6"/>
<circle cx="676.5" cy="290.5" r="1.6" fill="#ff60c0" stroke="#222" stroke-width="0.5"/>
<path d="M672 293.2 H690" stroke="#ff40a0" stroke-width="0.8" stroke-dasharray="2 1.5"/>
<rect x="688.5" y="293" width="3" height="4" fill="#888" stroke="#222" stroke-width="0.5"/>
<rect x="641.5" y="297.8" width="73" height="2.4" fill="#00ffff" stroke="none" stroke-width="0.6"/>
<rect x="646.5" y="300" width="5.2" height="94.5" fill="#00ffff" stroke="none" stroke-width="0.6"/>
<path d="M649 300 V392" stroke="#fff" stroke-width="0.5" opacity="0.7"/>
<rect x="706" y="300" width="5" height="94.5" fill="#00ffff" stroke="none" stroke-width="0.6"/>
<polygon points="645.5,314.1 656.3,313.75 656.3,340.75 645.5,341.2" fill="url(#gV)" stroke="none" stroke-width="0.5"/>
<path d="M645.5 314.1 L656.3 313.75 M645.5 341.2 L656.3 340.75" stroke="#141516" stroke-width="1.1"/>
<path d="M647 314 V341 M649.4 314 V341 M651.4 314 V341" stroke="#00ffff" stroke-width="0.6"/>
<path d="M651.5 359.6 H706 M651.5 393.8 H706" stroke="#00ffff" stroke-width="1.3"/>
<rect x="656" y="305" width="37.3" height="4" fill="#ffff00" stroke="none" stroke-width="0.6"/>
<rect x="656" y="305" width="3.6" height="53.5" fill="#ffff00" stroke="none" stroke-width="0.6"/>
<rect x="689.6" y="305" width="3.6" height="53.5" fill="#ffff00" stroke="none" stroke-width="0.6"/>
<path d="M659 357.6 H690" stroke="#ffff00" stroke-width="1"/>
<rect x="654.6" y="313" width="1.3" height="30" fill="#666" stroke="none" stroke-width="0.6"/>
<rect x="660.2" y="313.2" width="3" height="28" fill="#8a8e8e" stroke="#ff30f0" stroke-width="0.9"/>
<rect x="656.2" y="340.8" width="1.4" height="1.4" fill="#ff2020" stroke="none" stroke-width="0.6"/>
<rect x="656.2" y="347.5" width="1.2" height="1.2" fill="#ff2020" stroke="none" stroke-width="0.6"/>
<text x="647.5" y="350.5" font-size="3.6" font-weight="700" fill="#111" textLength="1.8" lengthAdjust="spacingAndGlyphs" font-family='"Liberation Serif","Noto Serif CJK SC",serif'>3</text>
<g stroke="#20e020" stroke-width="0.8" fill="none"><path d="M689 297.5 L656.8 328.5 L659.5 331.5 L692.5 299.8 M690.6 298.6 L658.2 330"/></g>
<g stroke="#20e020" stroke-width="1" fill="none"><path d="M659.5 358 L669.5 368 M689.5 358 L680 368 M662.5 358 L671.5 368 M686.5 358 L678 368"/><rect x="669.5" y="368" width="10.5" height="4"/><path d="M673 368 V372 M676.5 368 V372"/></g>
<text x="666" y="385.6" font-size="7" font-weight="700" fill="#111" textLength="16.5" lengthAdjust="spacingAndGlyphs" font-family='"Liberation Serif","Noto Serif CJK SC",serif'>集尘室</text>
<text x="759" y="369.6" font-size="7" font-weight="700" fill="#111" textLength="15.5" lengthAdjust="spacingAndGlyphs" font-family='"Liberation Serif","Noto Serif CJK SC",serif'>除尘器</text>
<rect x="749.2" y="385" width="1.8" height="8" fill="#777" stroke="#222" stroke-width="0.4"/>
<rect x="751" y="373" width="31.5" height="39.5" fill="#3434f4" stroke="#0c0c5c" stroke-width="1"/>
<rect x="751" y="373" width="31.5" height="6.79" fill="#1a1a9c" stroke="#0c0c5c" stroke-width="0.8"/>
<path d="M753 377.48 H781.5" stroke="#4a4aff" stroke-width="1.1" stroke-dasharray="4.88 3.15"/>
<path d="M756.67 379.79 V412.5M765.02 379.79 V412.5M773.21 379.79 V412.5M751 385.44 H782.5M751 392.43 H782.5M751 399.43 H782.5M751 406.22 H782.5" stroke="#0e0e62" stroke-width="1.5" fill="none"/>
<polygon points="751.4,412.5 761.1,412.5 756.35,424 755.35,424" fill="#2c2ce6" stroke="#0c0c5c" stroke-width="0.9"/>
<path d="M755.85 424 V432" stroke="#00ff00" stroke-width="1.3"/>
<polygon points="761.9,412.5 771.6,412.5 766.85,424 765.85,424" fill="#2c2ce6" stroke="#0c0c5c" stroke-width="0.9"/>
<path d="M766.35 424 V432" stroke="#00ff00" stroke-width="1.3"/>
<polygon points="772.4,412.5 782.1,412.5 777.35,424 776.35,424" fill="#2c2ce6" stroke="#0c0c5c" stroke-width="0.9"/>
<path d="M776.85 424 V432" stroke="#00ff00" stroke-width="1.3"/>
<rect x="782.3" y="400" width="1.7" height="8" fill="#777" stroke="#222" stroke-width="0.4"/>
<path d="M784 405.3 L802.5 405.3" fill="none" stroke="#ff2a2a" stroke-width="1.2"/>
<g transform="translate(802 401)">
<path d="M3.38 0.77 L11.7 0.4 L11.7 4.62 L7.64 5.5 Z" fill="#9ccccc" stroke="#0e0e0e" stroke-width="0.99" stroke-linejoin="round"/>
<rect x="-0.13" y="0.77" width="9.86" height="9.46" rx="2.13" fill="#0e0e0e"/>
<circle cx="4.8" cy="5.5" r="3.12" fill="#fff" stroke="none" stroke-width="0.6"/>
<circle cx="4.8" cy="5.5" r="1.89" fill="#0e0e0e" stroke="none" stroke-width="0.6"/>
<circle cx="4.8" cy="5.5" r="0.95" fill="#fff" stroke="none" stroke-width="0.6"/>
<polygon points="-0.17,11 10.48,11 8.11,9.24 1.49,9.24" fill="#9ccccc" stroke="#0e0e0e" stroke-width="0.77"/>
</g>
<path d="M814 403.6 L834.5 403.6" fill="none" stroke="#ff2a2a" stroke-width="1.2"/>
<polygon points="828,403.6 821,402.15 821,405.05" fill="#111" stroke="none" stroke-width="0.6"/>
<polygon points="837.8,341 845.4,341 845.4,402.5 847.8,415.3 835.4,415.3 837.8,402.5" fill="url(#gH)" stroke="#2a2c2d" stroke-width="0.7"/>
<path d="M837.8 402.5 H845.4" stroke="#2a2c2d" stroke-width="0.6"/>
<text x="826" y="365.6" font-size="7" font-weight="700" fill="#111" textLength="10.5" lengthAdjust="spacingAndGlyphs" font-family='"Liberation Serif","Noto Serif CJK SC",serif'>烟囱</text>
<path d="M829 209.3 L842.5 208 L846.5 211.5 L908.8 407 L911 410 L933.5 410" fill="none" stroke="#b88654" stroke-width="3.7" stroke-linejoin="round" stroke-linecap="round"/>
<path d="M829 209.3 L842.5 208 L846.5 211.5 L908.8 407 L911 410 L933.5 410" fill="none" stroke="#fff" stroke-width="1.5" stroke-linejoin="round" stroke-linecap="round"/>
<circle cx="829" cy="209.3" r="1.5" fill="#fff" stroke="#b88654" stroke-width="0.8"/>
<circle cx="933.5" cy="410" r="1.5" fill="#fff" stroke="#b88654" stroke-width="0.8"/>
<path d="M933 184.6 L947 184.6 L1018 263 L1156 263" fill="none" stroke="#b88654" stroke-width="3.7" stroke-linejoin="round" stroke-linecap="round"/>
<path d="M933 184.6 L947 184.6 L1018 263 L1156 263" fill="none" stroke="#fff" stroke-width="1.5" stroke-linejoin="round" stroke-linecap="round"/>
<circle cx="933" cy="184.6" r="1.5" fill="#fff" stroke="#b88654" stroke-width="0.8"/>
<circle cx="1156" cy="263" r="1.5" fill="#fff" stroke="#b88654" stroke-width="0.8"/>
<path d="M929.2 197 L929.2 188.6 L936 188.6" fill="none" stroke="#00ff00" stroke-width="1.2"/>
<path d="M907.5 232 V209.2 Q907.5 208 908.7 208 H940.3 Q941.5 208 941.5 209.2 V232 Z" fill="url(#gHop)" stroke="#232526" stroke-width="0.8"/>
<rect x="907.9" y="208.4" width="33.2" height="10.08" fill="url(#gTopShade)" stroke="none" stroke-width="0.6"/>
<polygon points="907.5,232 941.5,232 928,257 921,257" fill="url(#gCone)" stroke="#232526" stroke-width="0.8"/>
<polygon points="908.1,232.4 940.9,232.4 938.3,237.5 910.7,237.5" fill="url(#gConeTop)" stroke="none" stroke-width="0.6"/>
<rect x="921" y="257" width="7" height="3" fill="url(#gHop)" stroke="#232526" stroke-width="0.6"/>
<text x="891" y="218.6" font-size="7" font-weight="700" fill="#111" textLength="15.5" lengthAdjust="spacingAndGlyphs" font-family='"Liberation Serif","Noto Serif CJK SC",serif'>缓冲仓</text>
<rect x="897" y="260" width="62.5" height="8" fill="url(#gScrew)" stroke="#111" stroke-width="1"/>
<path d="M897 260 L900.47 268 L903.94 260 L907.42 268 L910.89 260 L914.36 268 L917.83 260 L921.31 268 L924.78 260 L928.25 268 L931.72 260 L935.19 268 L938.67 260 L942.14 268 L945.61 260 L949.08 268 L952.56 260 L956.03 268 L959.5 260" stroke="#111" stroke-width="0.8" fill="none" stroke-linejoin="round"/>
<circle cx="893" cy="264" r="2.1" fill="#ff30f0" stroke="#1a4a1a" stroke-width="0.9"/>
<rect x="906" y="268" width="7" height="3" fill="#f4f4f4" stroke="#111" stroke-width="0.7"/>
<rect x="947" y="268" width="7" height="3" fill="#f4f4f4" stroke="#111" stroke-width="0.7"/>
<path d="M918 271.6 H930" stroke="#111" stroke-width="0.9"/>
<path d="M909.3 271 V310 M949.6 271 V298" stroke="#222" stroke-width="0.8"/>
<rect x="903.4" y="280.2" width="5.6" height="4" rx="1.3" fill="#fff" stroke="#111" stroke-width="1"/>
<rect x="909.4" y="280.2" width="5.6" height="4" rx="1.3" fill="#fff" stroke="#111" stroke-width="1"/>
<rect x="908.4" y="281.3" width="1.8" height="1.8" fill="#111" stroke="none" stroke-width="0.6"/>
<path d="M915 282.2 h2" stroke="#111" stroke-width="0.7"/>
<polygon points="921.4,282.2 918.9,281 917,282.2 918.9,283.4" fill="#111" stroke="none" stroke-width="0.6"/>
<rect x="943.7" y="280.2" width="5.6" height="4" rx="1.3" fill="#fff" stroke="#111" stroke-width="1"/>
<rect x="949.7" y="280.2" width="5.6" height="4" rx="1.3" fill="#fff" stroke="#111" stroke-width="1"/>
<rect x="948.7" y="281.3" width="1.8" height="1.8" fill="#111" stroke="none" stroke-width="0.6"/>
<path d="M955.3 282.2 h2" stroke="#111" stroke-width="0.7"/>
<polygon points="961.7,282.2 959.2,281 957.3,282.2 959.2,283.4" fill="#111" stroke="none" stroke-width="0.6"/>
<path d="M898 301 L898 307" fill="none" stroke="#f4f400" stroke-width="1.2"/>
<polygon points="898,304.8 896.3,310 899.7,310" fill="#f4f400" stroke="none" stroke-width="0.6"/>
<path d="M962 289.3 L962 295" fill="none" stroke="#f4f400" stroke-width="1.2"/>
<polygon points="962,292.8 960.3,298 963.7,298" fill="#f4f400" stroke="none" stroke-width="0.6"/>
<polygon points="893,310 925.5,310 913.5,352.5 905.5,352.5" fill="url(#gC2)" stroke="#222" stroke-width="0.8"/>
<rect x="905.2" y="353" width="8.6" height="4" fill="#2a2c2d" stroke="none" stroke-width="0.6"/>
<path d="M905.5 356.5 L913.5 353.5" stroke="#ddd" stroke-width="0.7"/>
<polygon points="903.7,360.6 914,360.6 918.2,377.6 913,380" fill="url(#gC2)" stroke="#222" stroke-width="0.8"/>
<polygon points="944,298 970,298 965.5,313 948.5,313" fill="url(#gC2)" stroke="#222" stroke-width="0.8"/>
<rect x="948.5" y="313" width="17" height="11" fill="url(#gH)" stroke="#222" stroke-width="0.7"/>
<text x="971.5" y="312.2" font-size="7" font-weight="700" fill="#111" textLength="10" lengthAdjust="spacingAndGlyphs" font-family='"Liberation Serif","Noto Serif CJK SC",serif'>副仓</text>
<rect x="934" y="324" width="35" height="8" fill="url(#gScrew)" stroke="#111" stroke-width="1"/>
<path d="M934 324 L937.5 332 L941 324 L944.5 332 L948 324 L951.5 332 L955 324 L958.5 332 L962 324 L965.5 332 L969 324" stroke="#111" stroke-width="0.8" fill="none" stroke-linejoin="round"/>
<circle cx="973" cy="327.8" r="2.1" fill="#ff30f0" stroke="#1a4a1a" stroke-width="0.9"/>
<text x="923" y="329.8" font-size="7" font-weight="700" fill="#111" textLength="10" lengthAdjust="spacingAndGlyphs" font-family='"Liberation Serif","Noto Serif CJK SC",serif'>主仓</text>
<polygon points="937.5,332 944,332 942.5,336 939,336" fill="#f4f4f4" stroke="#111" stroke-width="0.7"/>
<path d="M940.8 336 L940.8 355 L921 355 L921 371" fill="none" stroke="#333" stroke-width="0.8"/>
<rect x="935.5" y="339.2" width="5.6" height="4" rx="1.3" fill="#fff" stroke="#111" stroke-width="1"/>
<rect x="941.5" y="339.2" width="5.6" height="4" rx="1.3" fill="#fff" stroke="#111" stroke-width="1"/>
<rect x="940.5" y="340.3" width="1.8" height="1.8" fill="#111" stroke="none" stroke-width="0.6"/>
<path d="M947.1 341.2 h2" stroke="#111" stroke-width="0.7"/>
<polygon points="953.5,341.2 951,340 949.1,341.2 951,342.4" fill="#111" stroke="none" stroke-width="0.6"/>
<path d="M1000.3 293.6 H1015.6 V319.5 L1009.5 322.8 H1006.5 L1000.3 319.5 Z" fill="#fff" stroke="#222" stroke-width="0.9"/>
<path d="M1015.6 296 H1018.6 V299.5" fill="none" stroke="#222" stroke-width="0.9"/>
<text x="1005" y="310.6" font-size="7" font-weight="700" fill="#111" textLength="10" lengthAdjust="spacingAndGlyphs" font-family='"Liberation Serif","Noto Serif CJK SC",serif'>水箱</text>
<path d="M1025.5 280 L1008 280 L1008 293.5" fill="none" stroke="#00e8ff" stroke-width="1.3"/>
<path d="M1008 323 L1008 357.5 L926 357.5 L926 367" fill="none" stroke="#00e8ff" stroke-width="1.3"/>
<polygon points="1004.5,286 1008,284.5 1008,287.5" fill="#00e8ff" stroke="none" stroke-width="0.6"/>
<polygon points="1004.5,334 1008,332.5 1008,335.5" fill="#00e8ff" stroke="none" stroke-width="0.6"/>
<polygon points="924.5,362 927.5,362 926,358.6" fill="#00e8ff" stroke="none" stroke-width="0.6"/>
<path d="M1048 282.6 H1041.2 V320 L1052 337 L1063 320 V282.6 H1056.4 M1048 282.6 V285.5 M1056.4 282.6 V285.5" fill="none" stroke="#222" stroke-width="0.9"/>
<path d="M1052.2 274 L1052.2 282" fill="none" stroke="#111" stroke-width="0.9"/>
<polygon points="1052.2,286 1050.55,282 1053.85,282" fill="#111" stroke="none" stroke-width="0.6"/>
<text x="1057.5" y="276.8" font-size="4.2" font-weight="700" fill="#ff20e0" textLength="4" lengthAdjust="spacingAndGlyphs" font-family='"Liberation Sans",sans-serif' style="stroke:#ff20e0;stroke-width:0.1px">PL</text>
<text x="1068" y="289" font-size="4.2" font-weight="700" fill="#ff20e0" textLength="4.6" lengthAdjust="spacingAndGlyphs" font-family='"Liberation Sans",sans-serif' style="stroke:#ff20e0;stroke-width:0.1px">PP</text>
<path d="M1063 294.6 L1075.5 294.6" fill="none" stroke="#f0f000" stroke-width="1.2"/>
<polygon points="1072,294.6 1068.5,293.2 1068.5,296" fill="#e8e800" stroke="none" stroke-width="0.6"/>
<text x="1044" y="309.6" font-size="7" font-weight="700" fill="#111" textLength="20" lengthAdjust="spacingAndGlyphs" font-family='"Liberation Serif","Noto Serif CJK SC",serif'>旋风除尘</text>
<path d="M1052 337 L1052 362.2 L929.3 362.2 L929.3 369" fill="none" stroke="#f4f400" stroke-width="1.3"/>
<polygon points="1017,362.2 1013,360.6 1013,363.8" fill="#e8e800" stroke="none" stroke-width="0.6"/>
<polygon points="918.8,373.3 934,363.5 936.5,367.2 921.5,377.3" fill="#1464ee" stroke="#0a245e" stroke-width="0.7"/>
<polygon points="934,363.5 952.8,394 952.8,400.6 947.2,400.6 947.2,395.5 930.2,367.2" fill="#1464ee" stroke="#0a245e" stroke-width="0.7"/>
<path d="M932.3 365.6 L950 394.6 V400" stroke="#0a245e" stroke-width="0.7" fill="none"/>
<polygon points="918.6,400.6 921.6,396.6 923,398.8 947.2,398.8 947.2,400.6" fill="#1464ee" stroke="#0a245e" stroke-width="0.6"/>
<polygon points="911.2,382.6 932.8,371.6 939.8,386.8 919.5,397.6" fill="url(#gDrumV)" stroke="#1a1b1c" stroke-width="0.9"/>
<text x="921.5" y="421" font-size="7" font-weight="500" fill="#111" textLength="15.5" lengthAdjust="spacingAndGlyphs" font-family='"Liberation Serif","Noto Serif CJK SC",serif'>制粒机</text>
<path d="M1091 205 V183.2 Q1091 182 1092.2 182 H1125.3 Q1126.5 182 1126.5 183.2 V205 Z" fill="url(#gHop)" stroke="#232526" stroke-width="0.8"/>
<rect x="1091.4" y="182.4" width="34.7" height="9.66" fill="url(#gTopShade)" stroke="none" stroke-width="0.6"/>
<polygon points="1091,205 1126.5,205 1112.35,234 1105.15,234" fill="url(#gCone)" stroke="#232526" stroke-width="0.8"/>
<polygon points="1091.6,205.4 1125.9,205.4 1123.3,210.5 1094.2,210.5" fill="url(#gConeTop)" stroke="none" stroke-width="0.6"/>
<rect x="1105.15" y="234" width="7.2" height="3" fill="url(#gHop)" stroke="#232526" stroke-width="0.6"/>
<path d="M1126.5 205 V183.2 Q1126.5 182 1127.7 182 H1160.8 Q1162 182 1162 183.2 V205 Z" fill="url(#gHop)" stroke="#232526" stroke-width="0.8"/>
<rect x="1126.9" y="182.4" width="34.7" height="9.66" fill="url(#gTopShade)" stroke="none" stroke-width="0.6"/>
<polygon points="1126.5,205 1162,205 1147.85,234 1140.65,234" fill="url(#gCone)" stroke="#232526" stroke-width="0.8"/>
<polygon points="1127.1,205.4 1161.4,205.4 1158.8,210.5 1129.7,210.5" fill="url(#gConeTop)" stroke="none" stroke-width="0.6"/>
<rect x="1140.65" y="234" width="7.2" height="3" fill="url(#gHop)" stroke="#232526" stroke-width="0.6"/>
<g transform="translate(1098 242) translate(23 0) scale(-1 1)">
<polygon points="6.2,0.4 22.4,0.4 22.4,4.3 10.2,8.2 8.4,7.4" fill="#c2c7c7" stroke="#111" stroke-width="1.1" stroke-linejoin="round"/>
<path d="M7 1 H22" stroke="#111" stroke-width="1.1"/>
<path d="M8.5 2.3 H12 M13.5 2.3 H21" stroke="#f4f6f6" stroke-width="0.8"/>
<path d="M8 3.6 L22 3.3" stroke="#2a2e2f" stroke-width="1"/>
<path d="M10 5 L18.5 4.6 L10.6 7 Z" fill="#e4e8e8"/>
<path d="M1.2 2.8 L7.4 9.6 M2 9.4 L6.2 3.4 M3.4 10.6 L6.4 7.6" stroke="#111" stroke-width="1.1" fill="none" stroke-linecap="round"/>
<circle cx="1.4" cy="2.8" r="1.1" fill="#111"/>
<circle cx="4.4" cy="5.4" r="1.4" fill="#eee" stroke="#555" stroke-width="0.5"/>
<path d="M5.5 8.8 L7 7 L7.5 9.8 Z" fill="#222"/>
</g>
<g transform="translate(1134 242) translate(23 0) scale(-1 1)">
<polygon points="6.2,0.4 22.4,0.4 22.4,4.3 10.2,8.2 8.4,7.4" fill="#c2c7c7" stroke="#111" stroke-width="1.1" stroke-linejoin="round"/>
<path d="M7 1 H22" stroke="#111" stroke-width="1.1"/>
<path d="M8.5 2.3 H12 M13.5 2.3 H21" stroke="#f4f6f6" stroke-width="0.8"/>
<path d="M8 3.6 L22 3.3" stroke="#2a2e2f" stroke-width="1"/>
<path d="M10 5 L18.5 4.6 L10.6 7 Z" fill="#e4e8e8"/>
<path d="M1.2 2.8 L7.4 9.6 M2 9.4 L6.2 3.4 M3.4 10.6 L6.4 7.6" stroke="#111" stroke-width="1.1" fill="none" stroke-linecap="round"/>
<circle cx="1.4" cy="2.8" r="1.1" fill="#111"/>
<circle cx="4.4" cy="5.4" r="1.4" fill="#eee" stroke="#555" stroke-width="0.5"/>
<path d="M5.5 8.8 L7 7 L7.5 9.8 Z" fill="#222"/>
</g>
<text x="1081" y="228.4" font-size="7" font-weight="700" fill="#111" textLength="15.5" lengthAdjust="spacingAndGlyphs" font-family='"Liberation Serif","Noto Serif CJK SC",serif'>缓冲仓</text>
<text x="1119" y="226.4" font-size="7" font-weight="700" fill="#111" textLength="15.5" lengthAdjust="spacingAndGlyphs" font-family='"Liberation Serif","Noto Serif CJK SC",serif'>缓冲仓</text>
</g>
</svg>
</body>
</html>
